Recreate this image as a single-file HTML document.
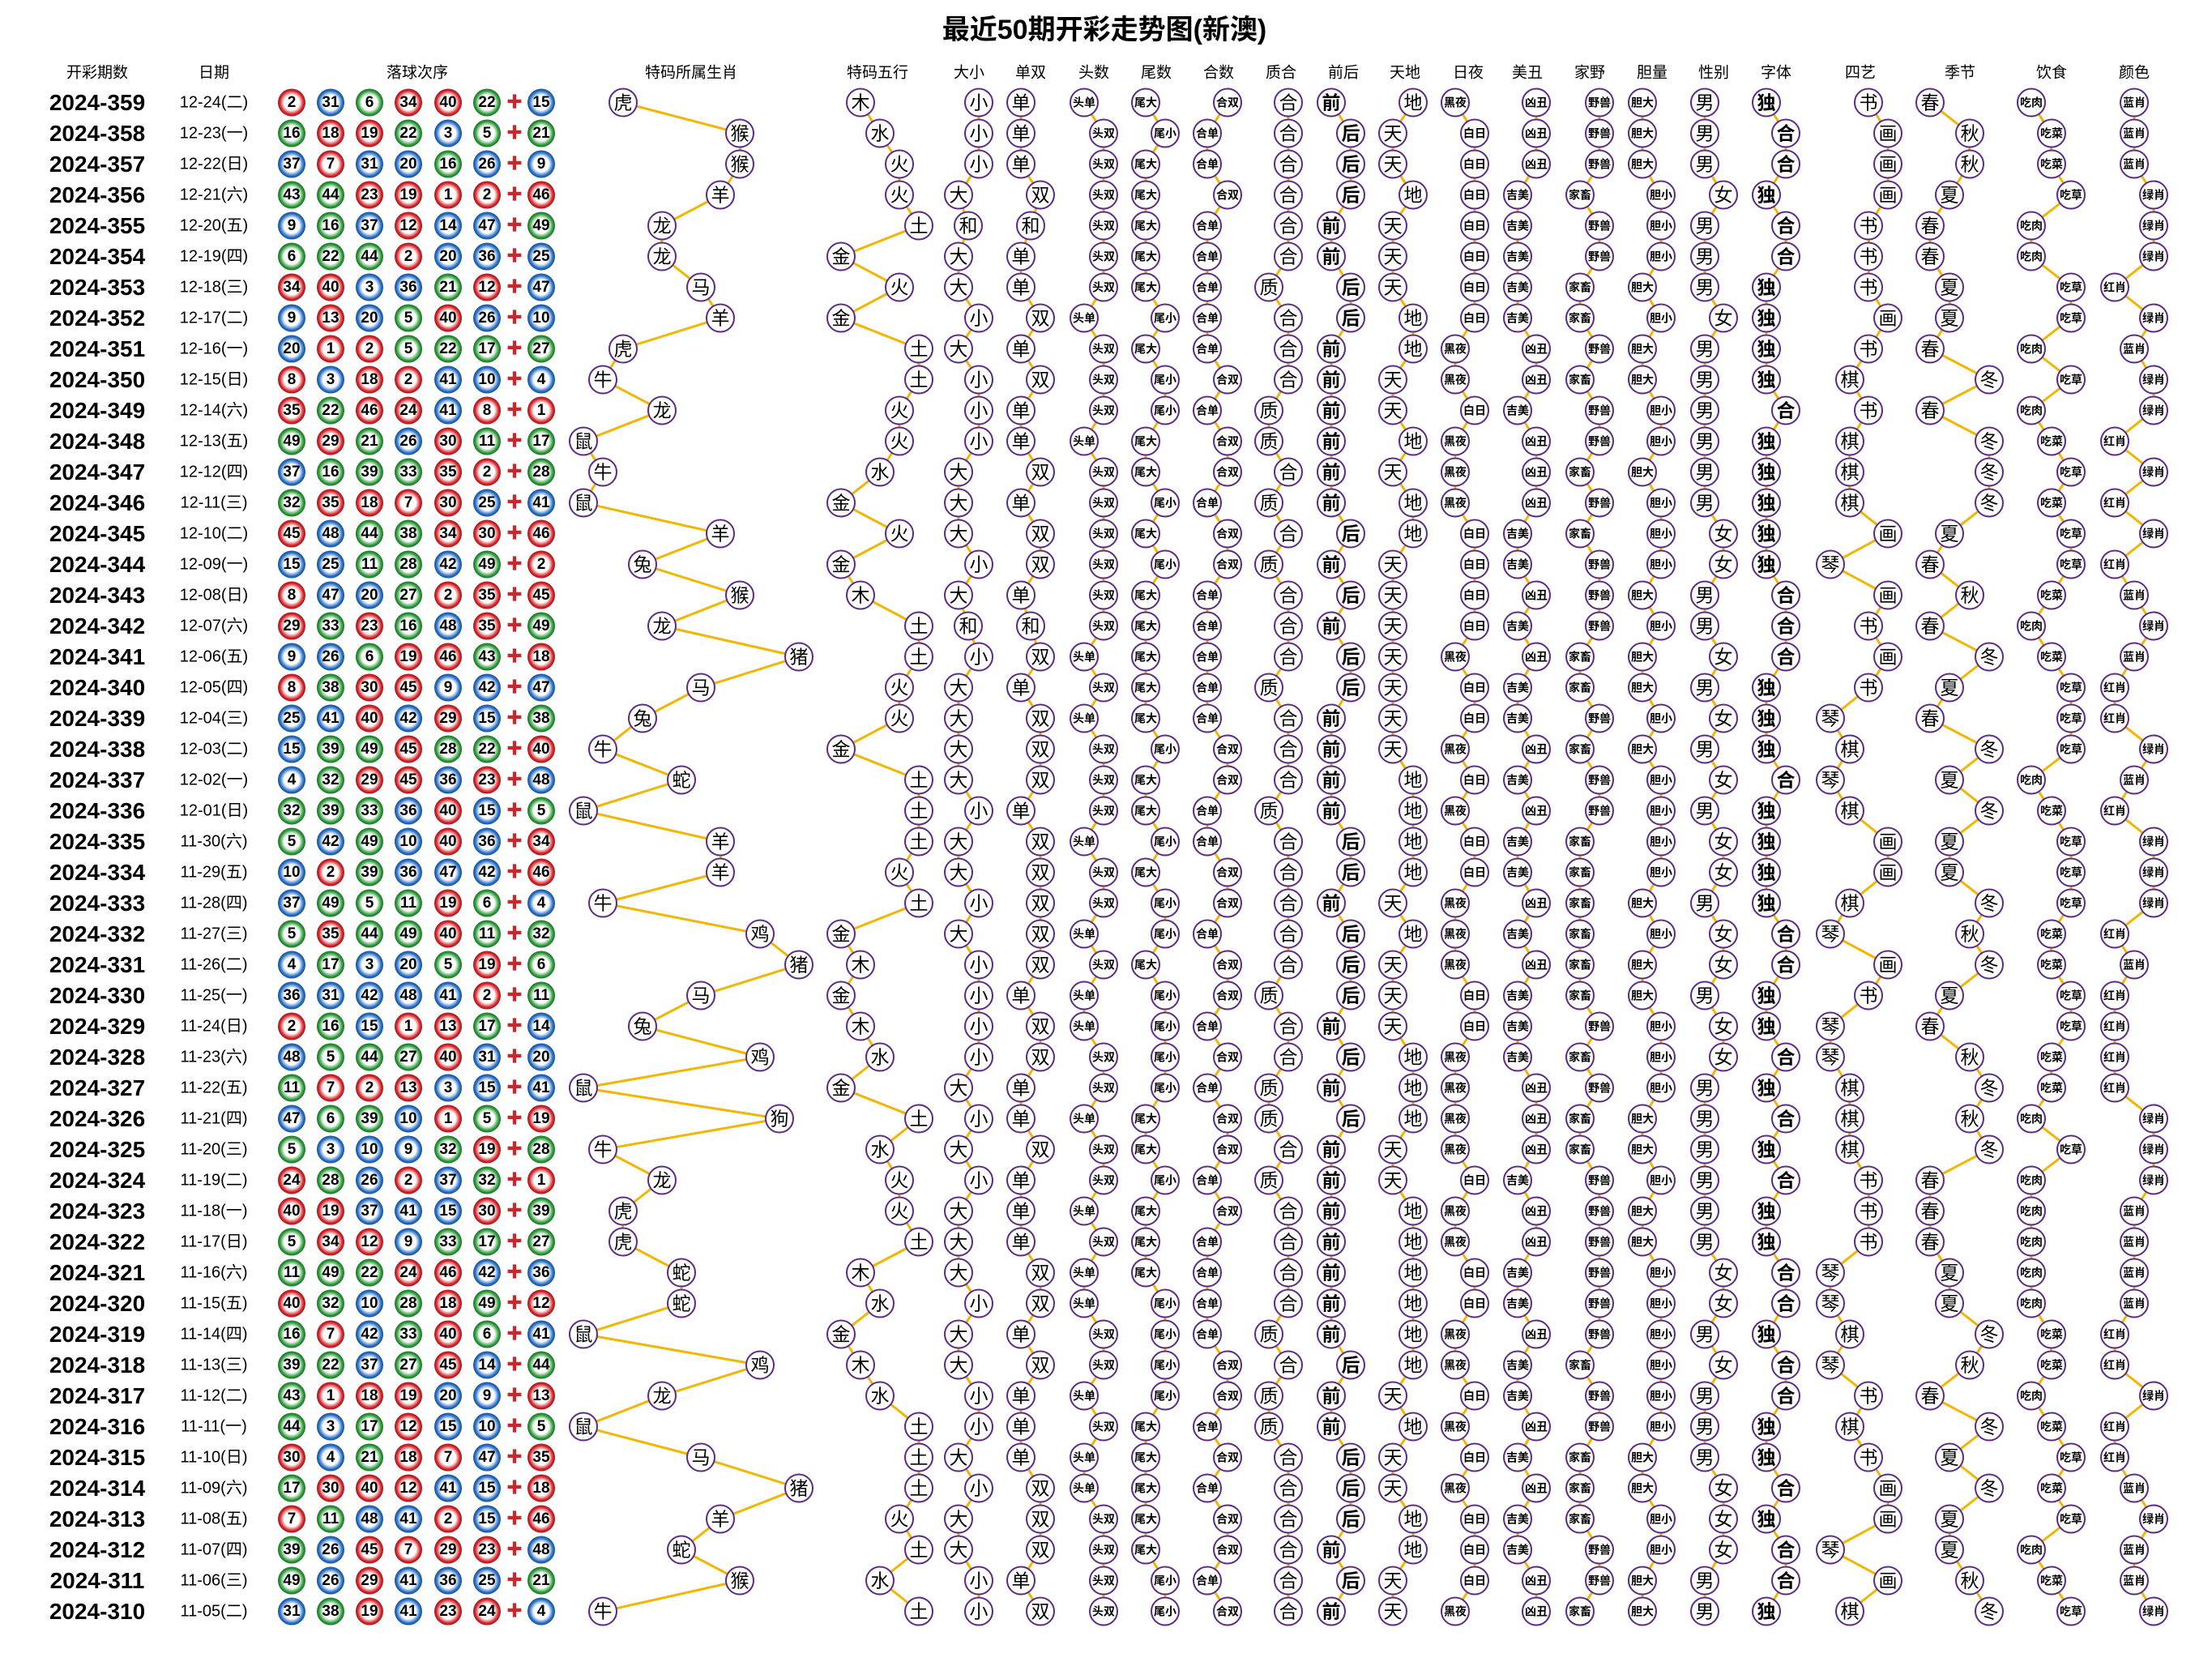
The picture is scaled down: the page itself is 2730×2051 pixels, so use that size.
<!DOCTYPE html>
<html><head><meta charset="utf-8"><style>
html,body{margin:0;padding:0;background:#fff}
svg{display:block}
text{font-family:"Liberation Sans","Noto Sans CJK SC",sans-serif;text-anchor:middle;dominant-baseline:central;font-size:23px;fill:#000}
circle{r:17px;fill:#fff;stroke:#5b2a86;stroke-width:2}
circle.R{fill:url(#gR);stroke:none}
circle.B{fill:url(#gB);stroke:none}
circle.G{fill:url(#gG);stroke:none}
.p{font-size:28px;font-weight:bold}
.d{font-size:20px}
.n{font-size:19px;font-weight:bold}
.s{font-size:14px;font-weight:bold}
.k{font-weight:bold}
.pl{fill:#c8282c;font-size:20px;font-weight:bold}
.h{font-size:19px}
.t{font-size:34px;font-weight:bold}
polyline{fill:none;stroke:#f2b600;stroke-width:3}
</style></head><body>
<svg width="2730" height="2051" viewBox="0 0 2730 2051" xmlns="http://www.w3.org/2000/svg">
<defs>
<radialGradient id="gR" cx="50%" cy="50%" r="50%"><stop offset="0" stop-color="#fff"/><stop offset="0.55" stop-color="#fff"/><stop offset="0.85" stop-color="#d8282c"/><stop offset="1" stop-color="#a3141a"/></radialGradient>
<radialGradient id="gB" cx="50%" cy="50%" r="50%"><stop offset="0" stop-color="#fff"/><stop offset="0.55" stop-color="#fff"/><stop offset="0.85" stop-color="#2a72c8"/><stop offset="1" stop-color="#164f96"/></radialGradient>
<radialGradient id="gG" cx="50%" cy="50%" r="50%"><stop offset="0" stop-color="#fff"/><stop offset="0.55" stop-color="#fff"/><stop offset="0.85" stop-color="#2f9e3c"/><stop offset="1" stop-color="#1a7026"/></radialGradient>
</defs>
<text class="t" x="1363" y="37">最近50期开彩走势图(新澳)</text>
<g transform="translate(0,90)">
<text class="h" x="120">开彩期数</text><text class="h" x="264">日期</text><text class="h" x="515">落球次序</text><text class="h" x="853">特码所属生肖</text><text class="h" x="1083">特码五行</text><text class="h" x="1196">大小</text><text class="h" x="1272">单双</text><text class="h" x="1350">头数</text><text class="h" x="1427">尾数</text><text class="h" x="1504">合数</text><text class="h" x="1581">质合</text><text class="h" x="1658">前后</text><text class="h" x="1734">天地</text><text class="h" x="1812">日夜</text><text class="h" x="1885">美丑</text><text class="h" x="1962">家野</text><text class="h" x="2039">胆量</text><text class="h" x="2115">性别</text><text class="h" x="2192">字体</text><text class="h" x="2296">四艺</text><text class="h" x="2419">季节</text><text class="h" x="2532">饮食</text><text class="h" x="2634">颜色</text>
</g>
<g>
<polyline vector-effect="non-scaling-stroke" transform="translate(720,126.5) scale(24.2,38)" points="2,0 8,1 8,2 7,3 4,4 4,5 6,6 7,7 2,8 1,9 4,10 0,11 1,12 0,13 7,14 3,15 8,16 4,17 11,18 6,19 3,20 1,21 5,22 0,23 7,24 7,25 1,26 9,27 11,28 6,29 3,30 9,31 0,32 10,33 1,34 4,35 2,36 2,37 5,38 5,39 0,40 9,41 4,42 0,43 6,44 11,45 7,46 5,47 8,48 1,49"/>
<polyline vector-effect="non-scaling-stroke" transform="translate(1038,126.5) scale(24,38)" points="1,0 2,1 3,2 3,3 4,4 0,5 3,6 0,7 4,8 4,9 3,10 3,11 2,12 0,13 3,14 0,15 1,16 4,17 4,18 3,19 3,20 0,21 4,22 4,23 4,24 3,25 4,26 0,27 1,28 0,29 1,30 2,31 0,32 4,33 2,34 3,35 3,36 4,37 1,38 2,39 0,40 1,41 2,42 4,43 4,44 4,45 3,46 4,47 2,48 4,49"/>
<polyline vector-effect="non-scaling-stroke" transform="translate(1183,126.5) scale(12.5,38)" points="2,0 2,1 2,2 0,3 1,4 0,5 0,6 2,7 0,8 2,9 2,10 2,11 0,12 0,13 0,14 2,15 0,16 1,17 2,18 0,19 0,20 0,21 0,22 2,23 0,24 0,25 2,26 0,27 2,28 2,29 2,30 2,31 0,32 2,33 0,34 2,35 0,36 0,37 0,38 2,39 0,40 0,41 2,42 2,43 0,44 2,45 0,46 0,47 2,48 2,49"/>
<polyline vector-effect="non-scaling-stroke" transform="translate(1260,126.5) scale(12,38)" points="0,0 0,1 0,2 2,3 1,4 0,5 0,6 2,7 0,8 2,9 0,10 0,11 2,12 0,13 2,14 2,15 0,16 1,17 2,18 0,19 2,20 2,21 2,22 0,23 2,24 2,25 2,26 2,27 2,28 0,29 2,30 2,31 0,32 0,33 2,34 0,35 0,36 0,37 2,38 2,39 0,40 2,41 0,42 0,43 0,44 2,45 2,46 2,47 0,48 2,49"/>
<polyline vector-effect="non-scaling-stroke" transform="translate(1338,126.5) scale(24,38)" points="0,0 1,1 1,2 1,3 1,4 1,5 1,6 0,7 1,8 1,9 1,10 0,11 1,12 1,13 1,14 1,15 1,16 1,17 0,18 1,19 0,20 1,21 1,22 1,23 0,24 1,25 1,26 0,27 1,28 0,29 0,30 1,31 1,32 0,33 1,34 1,35 0,36 1,37 0,38 0,39 1,40 1,41 0,42 1,43 0,44 0,45 1,46 1,47 1,48 1,49"/>
<polyline vector-effect="non-scaling-stroke" transform="translate(1414,126.5) scale(24,38)" points="0,0 1,1 0,2 0,3 0,4 0,5 0,6 1,7 0,8 1,9 1,10 0,11 0,12 1,13 0,14 1,15 0,16 0,17 0,18 0,19 0,20 1,21 0,22 0,23 1,24 0,25 1,26 1,27 0,28 1,29 1,30 1,31 1,32 0,33 0,34 1,35 0,36 0,37 0,38 1,39 1,40 1,41 1,42 0,43 0,44 0,45 0,46 0,47 1,48 1,49"/>
<polyline vector-effect="non-scaling-stroke" transform="translate(1490,126.5) scale(25,38)" points="1,0 0,1 0,2 1,3 0,4 0,5 0,6 0,7 0,8 1,9 0,10 1,11 1,12 0,13 1,14 1,15 0,16 0,17 0,18 0,19 0,20 1,21 1,22 0,23 0,24 1,25 1,26 0,27 1,28 1,29 0,30 1,31 0,32 1,33 1,34 0,35 1,36 0,37 0,38 0,39 0,40 1,41 1,42 0,43 1,44 0,45 1,46 1,47 0,48 1,49"/>
<polyline vector-effect="non-scaling-stroke" transform="translate(1566,126.5) scale(24,38)" points="1,0 1,1 1,2 1,3 1,4 1,5 0,6 1,7 1,8 1,9 0,10 0,11 1,12 0,13 1,14 0,15 1,16 1,17 1,18 0,19 1,20 1,21 1,22 0,23 1,24 1,25 1,26 1,27 1,28 0,29 1,30 1,31 0,32 0,33 1,34 0,35 1,36 1,37 1,38 1,39 0,40 1,41 0,42 0,43 1,44 1,45 1,46 1,47 1,48 1,49"/>
<polyline vector-effect="non-scaling-stroke" transform="translate(1643,126.5) scale(24,38)" points="0,0 1,1 1,2 1,3 0,4 0,5 1,6 1,7 0,8 0,9 0,10 0,11 0,12 0,13 1,14 0,15 1,16 0,17 1,18 1,19 0,20 0,21 0,22 0,23 1,24 1,25 0,26 1,27 1,28 1,29 0,30 1,31 0,32 1,33 0,34 0,35 0,36 0,37 0,38 0,39 0,40 1,41 0,42 0,43 1,44 1,45 1,46 0,47 1,48 0,49"/>
<polyline vector-effect="non-scaling-stroke" transform="translate(1719,126.5) scale(25,38)" points="1,0 0,1 0,2 1,3 0,4 0,5 0,6 1,7 1,8 0,9 0,10 1,11 0,12 1,13 1,14 0,15 0,16 0,17 0,18 0,19 0,20 0,21 1,22 1,23 1,24 1,25 0,26 1,27 0,28 0,29 0,30 1,31 1,32 1,33 0,34 0,35 1,36 1,37 1,38 1,39 1,40 1,41 0,42 1,43 0,44 0,45 1,46 1,47 0,48 0,49"/>
<polyline vector-effect="non-scaling-stroke" transform="translate(1796,126.5) scale(24,38)" points="0,0 1,1 1,2 1,3 1,4 1,5 1,6 1,7 0,8 0,9 1,10 0,11 0,12 0,13 1,14 1,15 1,16 1,17 0,18 1,19 1,20 0,21 1,22 0,23 1,24 1,25 0,26 0,27 0,28 1,29 1,30 0,31 0,32 0,33 0,34 1,35 0,36 0,37 1,38 1,39 0,40 0,41 1,42 0,43 1,44 0,45 1,46 1,47 1,48 0,49"/>
<polyline vector-effect="non-scaling-stroke" transform="translate(1873,126.5) scale(23,38)" points="1,0 1,1 1,2 0,3 0,4 0,5 0,6 0,7 1,8 1,9 0,10 1,11 1,12 1,13 0,14 0,15 1,16 0,17 1,18 0,19 0,20 1,21 0,22 1,23 0,24 0,25 1,26 0,27 1,28 0,29 0,30 0,31 1,32 1,33 1,34 0,35 1,36 1,37 0,38 0,39 1,40 0,41 0,42 1,43 0,44 1,45 0,46 0,47 1,48 1,49"/>
<polyline vector-effect="non-scaling-stroke" transform="translate(1950,126.5) scale(24,38)" points="1,0 1,1 1,2 0,3 1,4 1,5 0,6 0,7 1,8 0,9 1,10 1,11 0,12 1,13 0,14 1,15 1,16 1,17 0,18 0,19 1,20 0,21 1,22 1,23 0,24 0,25 0,26 0,27 0,28 0,29 1,30 0,31 1,32 0,33 0,34 1,35 1,36 1,37 1,38 1,39 1,40 0,41 1,42 1,43 0,44 0,45 0,46 1,47 1,48 0,49"/>
<polyline vector-effect="non-scaling-stroke" transform="translate(2027,126.5) scale(23,38)" points="0,0 0,1 0,2 1,3 1,4 1,5 0,6 1,7 0,8 0,9 1,10 1,11 0,12 1,13 1,14 1,15 0,16 1,17 0,18 0,19 1,20 0,21 1,22 1,23 1,24 1,25 0,26 1,27 0,28 0,29 1,30 1,31 1,32 0,33 0,34 1,35 0,36 0,37 1,38 1,39 1,40 1,41 1,42 1,43 0,44 0,45 1,46 1,47 0,48 0,49"/>
<polyline vector-effect="non-scaling-stroke" transform="translate(2104,126.5) scale(23,38)" points="0,0 0,1 0,2 1,3 0,4 0,5 0,6 1,7 0,8 0,9 0,10 0,11 0,12 0,13 1,14 1,15 0,16 0,17 1,18 0,19 1,20 0,21 1,22 0,23 1,24 1,25 0,26 1,27 1,28 0,29 1,30 1,31 0,32 0,33 0,34 0,35 0,36 0,37 1,38 1,39 0,40 1,41 0,42 0,43 0,44 1,45 1,46 1,47 0,48 0,49"/>
<polyline vector-effect="non-scaling-stroke" transform="translate(2180,126.5) scale(24,38)" points="0,0 1,1 1,2 0,3 1,4 1,5 0,6 0,7 0,8 0,9 1,10 0,11 0,12 0,13 0,14 0,15 1,16 1,17 1,18 0,19 0,20 0,21 1,22 0,23 0,24 0,25 0,26 1,27 1,28 0,29 0,30 1,31 0,32 1,33 0,34 1,35 0,36 0,37 1,38 1,39 0,40 1,41 1,42 0,43 0,44 1,45 0,46 1,47 1,48 0,49"/>
<polyline vector-effect="non-scaling-stroke" transform="translate(2259,126.5) scale(23.7,38)" points="2,0 3,1 3,2 3,3 2,4 2,5 2,6 3,7 2,8 1,9 2,10 1,11 1,12 1,13 3,14 0,15 3,16 2,17 3,18 2,19 0,20 1,21 0,22 1,23 3,24 3,25 1,26 0,27 3,28 2,29 0,30 0,31 1,32 1,33 1,34 2,35 2,36 2,37 0,38 0,39 1,40 0,41 2,42 1,43 2,44 3,45 3,46 0,47 3,48 1,49"/>
<polyline vector-effect="non-scaling-stroke" transform="translate(2382,126.5) scale(24.3,38)" points="0,0 2,1 2,2 1,3 0,4 0,5 1,6 1,7 0,8 3,9 0,10 3,11 3,12 3,13 1,14 0,15 2,16 0,17 3,18 1,19 0,20 3,21 1,22 3,23 1,24 1,25 3,26 2,27 3,28 1,29 0,30 2,31 3,32 2,33 3,34 0,35 0,36 0,37 1,38 1,39 3,40 2,41 0,42 3,43 1,44 3,45 1,46 1,47 2,48 3,49"/>
<polyline vector-effect="non-scaling-stroke" transform="translate(2507,126.5) scale(24.5,38)" points="0,0 1,1 1,2 2,3 0,4 0,5 2,6 2,7 0,8 2,9 0,10 1,11 2,12 1,13 2,14 2,15 1,16 0,17 1,18 2,19 2,20 2,21 0,22 1,23 2,24 2,25 2,26 1,27 1,28 2,29 2,30 1,31 1,32 0,33 2,34 0,35 0,36 0,37 0,38 0,39 1,40 1,41 0,42 1,43 2,44 1,45 2,46 0,47 1,48 2,49"/>
<polyline vector-effect="non-scaling-stroke" transform="translate(2610,126.5) scale(24,38)" points="1,0 1,1 1,2 2,3 2,4 2,5 0,6 2,7 1,8 2,9 2,10 0,11 2,12 0,13 2,14 0,15 1,16 2,17 1,18 0,19 0,20 2,21 1,22 0,23 2,24 2,25 2,26 0,27 1,28 0,29 0,30 0,31 0,32 2,33 2,34 2,35 1,36 1,37 1,38 1,39 0,40 0,41 2,42 0,43 0,44 1,45 2,46 1,47 1,48 2,49"/>
</g>

<g transform="translate(0,126.5)"><text class="p" x="120">2024-359</text><text class="d" x="264">12-24(二)</text><circle class="R" cx="360"/><text class="n" x="360">2</text><circle class="B" cx="408"/><text class="n" x="408">31</text><circle class="G" cx="456"/><text class="n" x="456">6</text><circle class="R" cx="504"/><text class="n" x="504">34</text><circle class="R" cx="553"/><text class="n" x="553">40</text><circle class="G" cx="601"/><text class="n" x="601">22</text><text class="pl" x="635">✚</text><circle class="B" cx="668"/><text class="n" x="668">15</text>
<circle cx="769"/><text x="769">虎</text><circle cx="1062"/><text x="1062">木</text><circle cx="1208"/><text x="1208">小</text><circle cx="1260"/><text x="1260">单</text><circle cx="1338"/><text class="s" x="1338">头单</text><circle cx="1414"/><text class="s" x="1414">尾大</text><circle cx="1515"/><text class="s" x="1515">合双</text><circle cx="1590"/><text x="1590">合</text>
<circle cx="1643"/><text class="k" x="1643">前</text><circle cx="1744"/><text x="1744">地</text><circle cx="1796"/><text class="s" x="1796">黑夜</text><circle cx="1896"/><text class="s" x="1896">凶丑</text><circle cx="1974"/><text class="s" x="1974">野兽</text><circle cx="2027"/><text class="s" x="2027">胆大</text><circle cx="2104"/><text x="2104">男</text><circle cx="2180"/><text class="k" x="2180">独</text><circle cx="2306"/><text x="2306">书</text><circle cx="2382"/><text x="2382">春</text><circle cx="2507"/><text class="s" x="2507">吃肉</text><circle cx="2634"/><text class="s" x="2634">蓝肖</text></g>

<g transform="translate(0,164.5)"><text class="p" x="120">2024-358</text><text class="d" x="264">12-23(一)</text><circle class="G" cx="360"/><text class="n" x="360">16</text><circle class="R" cx="408"/><text class="n" x="408">18</text><circle class="R" cx="456"/><text class="n" x="456">19</text><circle class="G" cx="504"/><text class="n" x="504">22</text><circle class="B" cx="553"/><text class="n" x="553">3</text><circle class="G" cx="601"/><text class="n" x="601">5</text><text class="pl" x="635">✚</text><circle class="G" cx="668"/><text class="n" x="668">21</text>
<circle cx="913"/><text x="913">猴</text><circle cx="1086"/><text x="1086">水</text><circle cx="1208"/><text x="1208">小</text><circle cx="1260"/><text x="1260">单</text><circle cx="1362"/><text class="s" x="1362">头双</text><circle cx="1438"/><text class="s" x="1438">尾小</text><circle cx="1490"/><text class="s" x="1490">合单</text><circle cx="1590"/><text x="1590">合</text>
<circle cx="1667"/><text class="k" x="1667">后</text><circle cx="1719"/><text x="1719">天</text><circle cx="1820"/><text class="s" x="1820">白日</text><circle cx="1896"/><text class="s" x="1896">凶丑</text><circle cx="1974"/><text class="s" x="1974">野兽</text><circle cx="2027"/><text class="s" x="2027">胆大</text><circle cx="2104"/><text x="2104">男</text><circle cx="2204"/><text class="k" x="2204">合</text><circle cx="2330"/><text x="2330">画</text><circle cx="2431"/><text x="2431">秋</text><circle cx="2532"/><text class="s" x="2532">吃菜</text><circle cx="2634"/><text class="s" x="2634">蓝肖</text></g>

<g transform="translate(0,202.5)"><text class="p" x="120">2024-357</text><text class="d" x="264">12-22(日)</text><circle class="B" cx="360"/><text class="n" x="360">37</text><circle class="R" cx="408"/><text class="n" x="408">7</text><circle class="B" cx="456"/><text class="n" x="456">31</text><circle class="B" cx="504"/><text class="n" x="504">20</text><circle class="G" cx="553"/><text class="n" x="553">16</text><circle class="B" cx="601"/><text class="n" x="601">26</text><text class="pl" x="635">✚</text><circle class="B" cx="668"/><text class="n" x="668">9</text>
<circle cx="913"/><text x="913">猴</text><circle cx="1110"/><text x="1110">火</text><circle cx="1208"/><text x="1208">小</text><circle cx="1260"/><text x="1260">单</text><circle cx="1362"/><text class="s" x="1362">头双</text><circle cx="1414"/><text class="s" x="1414">尾大</text><circle cx="1490"/><text class="s" x="1490">合单</text><circle cx="1590"/><text x="1590">合</text>
<circle cx="1667"/><text class="k" x="1667">后</text><circle cx="1719"/><text x="1719">天</text><circle cx="1820"/><text class="s" x="1820">白日</text><circle cx="1896"/><text class="s" x="1896">凶丑</text><circle cx="1974"/><text class="s" x="1974">野兽</text><circle cx="2027"/><text class="s" x="2027">胆大</text><circle cx="2104"/><text x="2104">男</text><circle cx="2204"/><text class="k" x="2204">合</text><circle cx="2330"/><text x="2330">画</text><circle cx="2431"/><text x="2431">秋</text><circle cx="2532"/><text class="s" x="2532">吃菜</text><circle cx="2634"/><text class="s" x="2634">蓝肖</text></g>

<g transform="translate(0,240.5)"><text class="p" x="120">2024-356</text><text class="d" x="264">12-21(六)</text><circle class="G" cx="360"/><text class="n" x="360">43</text><circle class="G" cx="408"/><text class="n" x="408">44</text><circle class="R" cx="456"/><text class="n" x="456">23</text><circle class="R" cx="504"/><text class="n" x="504">19</text><circle class="R" cx="553"/><text class="n" x="553">1</text><circle class="R" cx="601"/><text class="n" x="601">2</text><text class="pl" x="635">✚</text><circle class="R" cx="668"/><text class="n" x="668">46</text>
<circle cx="889"/><text x="889">羊</text><circle cx="1110"/><text x="1110">火</text><circle cx="1183"/><text x="1183">大</text><circle cx="1284"/><text x="1284">双</text><circle cx="1362"/><text class="s" x="1362">头双</text><circle cx="1414"/><text class="s" x="1414">尾大</text><circle cx="1515"/><text class="s" x="1515">合双</text><circle cx="1590"/><text x="1590">合</text>
<circle cx="1667"/><text class="k" x="1667">后</text><circle cx="1744"/><text x="1744">地</text><circle cx="1820"/><text class="s" x="1820">白日</text><circle cx="1873"/><text class="s" x="1873">吉美</text><circle cx="1950"/><text class="s" x="1950">家畜</text><circle cx="2050"/><text class="s" x="2050">胆小</text><circle cx="2127"/><text x="2127">女</text><circle cx="2180"/><text class="k" x="2180">独</text><circle cx="2330"/><text x="2330">画</text><circle cx="2406"/><text x="2406">夏</text><circle cx="2556"/><text class="s" x="2556">吃草</text><circle cx="2658"/><text class="s" x="2658">绿肖</text></g>

<g transform="translate(0,278.5)"><text class="p" x="120">2024-355</text><text class="d" x="264">12-20(五)</text><circle class="B" cx="360"/><text class="n" x="360">9</text><circle class="G" cx="408"/><text class="n" x="408">16</text><circle class="B" cx="456"/><text class="n" x="456">37</text><circle class="R" cx="504"/><text class="n" x="504">12</text><circle class="B" cx="553"/><text class="n" x="553">14</text><circle class="B" cx="601"/><text class="n" x="601">47</text><text class="pl" x="635">✚</text><circle class="G" cx="668"/><text class="n" x="668">49</text>
<circle cx="817"/><text x="817">龙</text><circle cx="1134"/><text x="1134">土</text><circle cx="1195"/><text x="1195">和</text><circle cx="1272"/><text x="1272">和</text><circle cx="1362"/><text class="s" x="1362">头双</text><circle cx="1414"/><text class="s" x="1414">尾大</text><circle cx="1490"/><text class="s" x="1490">合单</text><circle cx="1590"/><text x="1590">合</text>
<circle cx="1643"/><text class="k" x="1643">前</text><circle cx="1719"/><text x="1719">天</text><circle cx="1820"/><text class="s" x="1820">白日</text><circle cx="1873"/><text class="s" x="1873">吉美</text><circle cx="1974"/><text class="s" x="1974">野兽</text><circle cx="2050"/><text class="s" x="2050">胆小</text><circle cx="2104"/><text x="2104">男</text><circle cx="2204"/><text class="k" x="2204">合</text><circle cx="2306"/><text x="2306">书</text><circle cx="2382"/><text x="2382">春</text><circle cx="2507"/><text class="s" x="2507">吃肉</text><circle cx="2658"/><text class="s" x="2658">绿肖</text></g>

<g transform="translate(0,316.5)"><text class="p" x="120">2024-354</text><text class="d" x="264">12-19(四)</text><circle class="G" cx="360"/><text class="n" x="360">6</text><circle class="G" cx="408"/><text class="n" x="408">22</text><circle class="G" cx="456"/><text class="n" x="456">44</text><circle class="R" cx="504"/><text class="n" x="504">2</text><circle class="B" cx="553"/><text class="n" x="553">20</text><circle class="B" cx="601"/><text class="n" x="601">36</text><text class="pl" x="635">✚</text><circle class="B" cx="668"/><text class="n" x="668">25</text>
<circle cx="817"/><text x="817">龙</text><circle cx="1038"/><text x="1038">金</text><circle cx="1183"/><text x="1183">大</text><circle cx="1260"/><text x="1260">单</text><circle cx="1362"/><text class="s" x="1362">头双</text><circle cx="1414"/><text class="s" x="1414">尾大</text><circle cx="1490"/><text class="s" x="1490">合单</text><circle cx="1590"/><text x="1590">合</text>
<circle cx="1643"/><text class="k" x="1643">前</text><circle cx="1719"/><text x="1719">天</text><circle cx="1820"/><text class="s" x="1820">白日</text><circle cx="1873"/><text class="s" x="1873">吉美</text><circle cx="1974"/><text class="s" x="1974">野兽</text><circle cx="2050"/><text class="s" x="2050">胆小</text><circle cx="2104"/><text x="2104">男</text><circle cx="2204"/><text class="k" x="2204">合</text><circle cx="2306"/><text x="2306">书</text><circle cx="2382"/><text x="2382">春</text><circle cx="2507"/><text class="s" x="2507">吃肉</text><circle cx="2658"/><text class="s" x="2658">绿肖</text></g>

<g transform="translate(0,354.5)"><text class="p" x="120">2024-353</text><text class="d" x="264">12-18(三)</text><circle class="R" cx="360"/><text class="n" x="360">34</text><circle class="R" cx="408"/><text class="n" x="408">40</text><circle class="B" cx="456"/><text class="n" x="456">3</text><circle class="B" cx="504"/><text class="n" x="504">36</text><circle class="G" cx="553"/><text class="n" x="553">21</text><circle class="R" cx="601"/><text class="n" x="601">12</text><text class="pl" x="635">✚</text><circle class="B" cx="668"/><text class="n" x="668">47</text>
<circle cx="865"/><text x="865">马</text><circle cx="1110"/><text x="1110">火</text><circle cx="1183"/><text x="1183">大</text><circle cx="1260"/><text x="1260">单</text><circle cx="1362"/><text class="s" x="1362">头双</text><circle cx="1414"/><text class="s" x="1414">尾大</text><circle cx="1490"/><text class="s" x="1490">合单</text><circle cx="1566"/><text x="1566">质</text>
<circle cx="1667"/><text class="k" x="1667">后</text><circle cx="1719"/><text x="1719">天</text><circle cx="1820"/><text class="s" x="1820">白日</text><circle cx="1873"/><text class="s" x="1873">吉美</text><circle cx="1950"/><text class="s" x="1950">家畜</text><circle cx="2027"/><text class="s" x="2027">胆大</text><circle cx="2104"/><text x="2104">男</text><circle cx="2180"/><text class="k" x="2180">独</text><circle cx="2306"/><text x="2306">书</text><circle cx="2406"/><text x="2406">夏</text><circle cx="2556"/><text class="s" x="2556">吃草</text><circle cx="2610"/><text class="s" x="2610">红肖</text></g>

<g transform="translate(0,392.5)"><text class="p" x="120">2024-352</text><text class="d" x="264">12-17(二)</text><circle class="B" cx="360"/><text class="n" x="360">9</text><circle class="R" cx="408"/><text class="n" x="408">13</text><circle class="B" cx="456"/><text class="n" x="456">20</text><circle class="G" cx="504"/><text class="n" x="504">5</text><circle class="R" cx="553"/><text class="n" x="553">40</text><circle class="B" cx="601"/><text class="n" x="601">26</text><text class="pl" x="635">✚</text><circle class="B" cx="668"/><text class="n" x="668">10</text>
<circle cx="889"/><text x="889">羊</text><circle cx="1038"/><text x="1038">金</text><circle cx="1208"/><text x="1208">小</text><circle cx="1284"/><text x="1284">双</text><circle cx="1338"/><text class="s" x="1338">头单</text><circle cx="1438"/><text class="s" x="1438">尾小</text><circle cx="1490"/><text class="s" x="1490">合单</text><circle cx="1590"/><text x="1590">合</text>
<circle cx="1667"/><text class="k" x="1667">后</text><circle cx="1744"/><text x="1744">地</text><circle cx="1820"/><text class="s" x="1820">白日</text><circle cx="1873"/><text class="s" x="1873">吉美</text><circle cx="1950"/><text class="s" x="1950">家畜</text><circle cx="2050"/><text class="s" x="2050">胆小</text><circle cx="2127"/><text x="2127">女</text><circle cx="2180"/><text class="k" x="2180">独</text><circle cx="2330"/><text x="2330">画</text><circle cx="2406"/><text x="2406">夏</text><circle cx="2556"/><text class="s" x="2556">吃草</text><circle cx="2658"/><text class="s" x="2658">绿肖</text></g>

<g transform="translate(0,430.5)"><text class="p" x="120">2024-351</text><text class="d" x="264">12-16(一)</text><circle class="B" cx="360"/><text class="n" x="360">20</text><circle class="R" cx="408"/><text class="n" x="408">1</text><circle class="R" cx="456"/><text class="n" x="456">2</text><circle class="G" cx="504"/><text class="n" x="504">5</text><circle class="G" cx="553"/><text class="n" x="553">22</text><circle class="G" cx="601"/><text class="n" x="601">17</text><text class="pl" x="635">✚</text><circle class="G" cx="668"/><text class="n" x="668">27</text>
<circle cx="769"/><text x="769">虎</text><circle cx="1134"/><text x="1134">土</text><circle cx="1183"/><text x="1183">大</text><circle cx="1260"/><text x="1260">单</text><circle cx="1362"/><text class="s" x="1362">头双</text><circle cx="1414"/><text class="s" x="1414">尾大</text><circle cx="1490"/><text class="s" x="1490">合单</text><circle cx="1590"/><text x="1590">合</text>
<circle cx="1643"/><text class="k" x="1643">前</text><circle cx="1744"/><text x="1744">地</text><circle cx="1796"/><text class="s" x="1796">黑夜</text><circle cx="1896"/><text class="s" x="1896">凶丑</text><circle cx="1974"/><text class="s" x="1974">野兽</text><circle cx="2027"/><text class="s" x="2027">胆大</text><circle cx="2104"/><text x="2104">男</text><circle cx="2180"/><text class="k" x="2180">独</text><circle cx="2306"/><text x="2306">书</text><circle cx="2382"/><text x="2382">春</text><circle cx="2507"/><text class="s" x="2507">吃肉</text><circle cx="2634"/><text class="s" x="2634">蓝肖</text></g>

<g transform="translate(0,468.5)"><text class="p" x="120">2024-350</text><text class="d" x="264">12-15(日)</text><circle class="R" cx="360"/><text class="n" x="360">8</text><circle class="B" cx="408"/><text class="n" x="408">3</text><circle class="R" cx="456"/><text class="n" x="456">18</text><circle class="R" cx="504"/><text class="n" x="504">2</text><circle class="B" cx="553"/><text class="n" x="553">41</text><circle class="B" cx="601"/><text class="n" x="601">10</text><text class="pl" x="635">✚</text><circle class="B" cx="668"/><text class="n" x="668">4</text>
<circle cx="744"/><text x="744">牛</text><circle cx="1134"/><text x="1134">土</text><circle cx="1208"/><text x="1208">小</text><circle cx="1284"/><text x="1284">双</text><circle cx="1362"/><text class="s" x="1362">头双</text><circle cx="1438"/><text class="s" x="1438">尾小</text><circle cx="1515"/><text class="s" x="1515">合双</text><circle cx="1590"/><text x="1590">合</text>
<circle cx="1643"/><text class="k" x="1643">前</text><circle cx="1719"/><text x="1719">天</text><circle cx="1796"/><text class="s" x="1796">黑夜</text><circle cx="1896"/><text class="s" x="1896">凶丑</text><circle cx="1950"/><text class="s" x="1950">家畜</text><circle cx="2027"/><text class="s" x="2027">胆大</text><circle cx="2104"/><text x="2104">男</text><circle cx="2180"/><text class="k" x="2180">独</text><circle cx="2283"/><text x="2283">棋</text><circle cx="2455"/><text x="2455">冬</text><circle cx="2556"/><text class="s" x="2556">吃草</text><circle cx="2658"/><text class="s" x="2658">绿肖</text></g>

<g transform="translate(0,506.5)"><text class="p" x="120">2024-349</text><text class="d" x="264">12-14(六)</text><circle class="R" cx="360"/><text class="n" x="360">35</text><circle class="G" cx="408"/><text class="n" x="408">22</text><circle class="R" cx="456"/><text class="n" x="456">46</text><circle class="R" cx="504"/><text class="n" x="504">24</text><circle class="B" cx="553"/><text class="n" x="553">41</text><circle class="R" cx="601"/><text class="n" x="601">8</text><text class="pl" x="635">✚</text><circle class="R" cx="668"/><text class="n" x="668">1</text>
<circle cx="817"/><text x="817">龙</text><circle cx="1110"/><text x="1110">火</text><circle cx="1208"/><text x="1208">小</text><circle cx="1260"/><text x="1260">单</text><circle cx="1362"/><text class="s" x="1362">头双</text><circle cx="1438"/><text class="s" x="1438">尾小</text><circle cx="1490"/><text class="s" x="1490">合单</text><circle cx="1566"/><text x="1566">质</text>
<circle cx="1643"/><text class="k" x="1643">前</text><circle cx="1719"/><text x="1719">天</text><circle cx="1820"/><text class="s" x="1820">白日</text><circle cx="1873"/><text class="s" x="1873">吉美</text><circle cx="1974"/><text class="s" x="1974">野兽</text><circle cx="2050"/><text class="s" x="2050">胆小</text><circle cx="2104"/><text x="2104">男</text><circle cx="2204"/><text class="k" x="2204">合</text><circle cx="2306"/><text x="2306">书</text><circle cx="2382"/><text x="2382">春</text><circle cx="2507"/><text class="s" x="2507">吃肉</text><circle cx="2658"/><text class="s" x="2658">绿肖</text></g>

<g transform="translate(0,544.5)"><text class="p" x="120">2024-348</text><text class="d" x="264">12-13(五)</text><circle class="G" cx="360"/><text class="n" x="360">49</text><circle class="R" cx="408"/><text class="n" x="408">29</text><circle class="G" cx="456"/><text class="n" x="456">21</text><circle class="B" cx="504"/><text class="n" x="504">26</text><circle class="R" cx="553"/><text class="n" x="553">30</text><circle class="G" cx="601"/><text class="n" x="601">11</text><text class="pl" x="635">✚</text><circle class="G" cx="668"/><text class="n" x="668">17</text>
<circle cx="720"/><text x="720">鼠</text><circle cx="1110"/><text x="1110">火</text><circle cx="1208"/><text x="1208">小</text><circle cx="1260"/><text x="1260">单</text><circle cx="1338"/><text class="s" x="1338">头单</text><circle cx="1414"/><text class="s" x="1414">尾大</text><circle cx="1515"/><text class="s" x="1515">合双</text><circle cx="1566"/><text x="1566">质</text>
<circle cx="1643"/><text class="k" x="1643">前</text><circle cx="1744"/><text x="1744">地</text><circle cx="1796"/><text class="s" x="1796">黑夜</text><circle cx="1896"/><text class="s" x="1896">凶丑</text><circle cx="1974"/><text class="s" x="1974">野兽</text><circle cx="2050"/><text class="s" x="2050">胆小</text><circle cx="2104"/><text x="2104">男</text><circle cx="2180"/><text class="k" x="2180">独</text><circle cx="2283"/><text x="2283">棋</text><circle cx="2455"/><text x="2455">冬</text><circle cx="2532"/><text class="s" x="2532">吃菜</text><circle cx="2610"/><text class="s" x="2610">红肖</text></g>

<g transform="translate(0,582.5)"><text class="p" x="120">2024-347</text><text class="d" x="264">12-12(四)</text><circle class="B" cx="360"/><text class="n" x="360">37</text><circle class="G" cx="408"/><text class="n" x="408">16</text><circle class="G" cx="456"/><text class="n" x="456">39</text><circle class="G" cx="504"/><text class="n" x="504">33</text><circle class="R" cx="553"/><text class="n" x="553">35</text><circle class="R" cx="601"/><text class="n" x="601">2</text><text class="pl" x="635">✚</text><circle class="G" cx="668"/><text class="n" x="668">28</text>
<circle cx="744"/><text x="744">牛</text><circle cx="1086"/><text x="1086">水</text><circle cx="1183"/><text x="1183">大</text><circle cx="1284"/><text x="1284">双</text><circle cx="1362"/><text class="s" x="1362">头双</text><circle cx="1414"/><text class="s" x="1414">尾大</text><circle cx="1515"/><text class="s" x="1515">合双</text><circle cx="1590"/><text x="1590">合</text>
<circle cx="1643"/><text class="k" x="1643">前</text><circle cx="1719"/><text x="1719">天</text><circle cx="1796"/><text class="s" x="1796">黑夜</text><circle cx="1896"/><text class="s" x="1896">凶丑</text><circle cx="1950"/><text class="s" x="1950">家畜</text><circle cx="2027"/><text class="s" x="2027">胆大</text><circle cx="2104"/><text x="2104">男</text><circle cx="2180"/><text class="k" x="2180">独</text><circle cx="2283"/><text x="2283">棋</text><circle cx="2455"/><text x="2455">冬</text><circle cx="2556"/><text class="s" x="2556">吃草</text><circle cx="2658"/><text class="s" x="2658">绿肖</text></g>

<g transform="translate(0,620.5)"><text class="p" x="120">2024-346</text><text class="d" x="264">12-11(三)</text><circle class="G" cx="360"/><text class="n" x="360">32</text><circle class="R" cx="408"/><text class="n" x="408">35</text><circle class="R" cx="456"/><text class="n" x="456">18</text><circle class="R" cx="504"/><text class="n" x="504">7</text><circle class="R" cx="553"/><text class="n" x="553">30</text><circle class="B" cx="601"/><text class="n" x="601">25</text><text class="pl" x="635">✚</text><circle class="B" cx="668"/><text class="n" x="668">41</text>
<circle cx="720"/><text x="720">鼠</text><circle cx="1038"/><text x="1038">金</text><circle cx="1183"/><text x="1183">大</text><circle cx="1260"/><text x="1260">单</text><circle cx="1362"/><text class="s" x="1362">头双</text><circle cx="1438"/><text class="s" x="1438">尾小</text><circle cx="1490"/><text class="s" x="1490">合单</text><circle cx="1566"/><text x="1566">质</text>
<circle cx="1643"/><text class="k" x="1643">前</text><circle cx="1744"/><text x="1744">地</text><circle cx="1796"/><text class="s" x="1796">黑夜</text><circle cx="1896"/><text class="s" x="1896">凶丑</text><circle cx="1974"/><text class="s" x="1974">野兽</text><circle cx="2050"/><text class="s" x="2050">胆小</text><circle cx="2104"/><text x="2104">男</text><circle cx="2180"/><text class="k" x="2180">独</text><circle cx="2283"/><text x="2283">棋</text><circle cx="2455"/><text x="2455">冬</text><circle cx="2532"/><text class="s" x="2532">吃菜</text><circle cx="2610"/><text class="s" x="2610">红肖</text></g>

<g transform="translate(0,658.5)"><text class="p" x="120">2024-345</text><text class="d" x="264">12-10(二)</text><circle class="R" cx="360"/><text class="n" x="360">45</text><circle class="B" cx="408"/><text class="n" x="408">48</text><circle class="G" cx="456"/><text class="n" x="456">44</text><circle class="G" cx="504"/><text class="n" x="504">38</text><circle class="R" cx="553"/><text class="n" x="553">34</text><circle class="R" cx="601"/><text class="n" x="601">30</text><text class="pl" x="635">✚</text><circle class="R" cx="668"/><text class="n" x="668">46</text>
<circle cx="889"/><text x="889">羊</text><circle cx="1110"/><text x="1110">火</text><circle cx="1183"/><text x="1183">大</text><circle cx="1284"/><text x="1284">双</text><circle cx="1362"/><text class="s" x="1362">头双</text><circle cx="1414"/><text class="s" x="1414">尾大</text><circle cx="1515"/><text class="s" x="1515">合双</text><circle cx="1590"/><text x="1590">合</text>
<circle cx="1667"/><text class="k" x="1667">后</text><circle cx="1744"/><text x="1744">地</text><circle cx="1820"/><text class="s" x="1820">白日</text><circle cx="1873"/><text class="s" x="1873">吉美</text><circle cx="1950"/><text class="s" x="1950">家畜</text><circle cx="2050"/><text class="s" x="2050">胆小</text><circle cx="2127"/><text x="2127">女</text><circle cx="2180"/><text class="k" x="2180">独</text><circle cx="2330"/><text x="2330">画</text><circle cx="2406"/><text x="2406">夏</text><circle cx="2556"/><text class="s" x="2556">吃草</text><circle cx="2658"/><text class="s" x="2658">绿肖</text></g>

<g transform="translate(0,696.5)"><text class="p" x="120">2024-344</text><text class="d" x="264">12-09(一)</text><circle class="B" cx="360"/><text class="n" x="360">15</text><circle class="B" cx="408"/><text class="n" x="408">25</text><circle class="G" cx="456"/><text class="n" x="456">11</text><circle class="G" cx="504"/><text class="n" x="504">28</text><circle class="B" cx="553"/><text class="n" x="553">42</text><circle class="G" cx="601"/><text class="n" x="601">49</text><text class="pl" x="635">✚</text><circle class="R" cx="668"/><text class="n" x="668">2</text>
<circle cx="793"/><text x="793">兔</text><circle cx="1038"/><text x="1038">金</text><circle cx="1208"/><text x="1208">小</text><circle cx="1284"/><text x="1284">双</text><circle cx="1362"/><text class="s" x="1362">头双</text><circle cx="1438"/><text class="s" x="1438">尾小</text><circle cx="1515"/><text class="s" x="1515">合双</text><circle cx="1566"/><text x="1566">质</text>
<circle cx="1643"/><text class="k" x="1643">前</text><circle cx="1719"/><text x="1719">天</text><circle cx="1820"/><text class="s" x="1820">白日</text><circle cx="1873"/><text class="s" x="1873">吉美</text><circle cx="1974"/><text class="s" x="1974">野兽</text><circle cx="2050"/><text class="s" x="2050">胆小</text><circle cx="2127"/><text x="2127">女</text><circle cx="2180"/><text class="k" x="2180">独</text><circle cx="2259"/><text x="2259">琴</text><circle cx="2382"/><text x="2382">春</text><circle cx="2556"/><text class="s" x="2556">吃草</text><circle cx="2610"/><text class="s" x="2610">红肖</text></g>

<g transform="translate(0,734.5)"><text class="p" x="120">2024-343</text><text class="d" x="264">12-08(日)</text><circle class="R" cx="360"/><text class="n" x="360">8</text><circle class="B" cx="408"/><text class="n" x="408">47</text><circle class="B" cx="456"/><text class="n" x="456">20</text><circle class="G" cx="504"/><text class="n" x="504">27</text><circle class="R" cx="553"/><text class="n" x="553">2</text><circle class="R" cx="601"/><text class="n" x="601">35</text><text class="pl" x="635">✚</text><circle class="R" cx="668"/><text class="n" x="668">45</text>
<circle cx="913"/><text x="913">猴</text><circle cx="1062"/><text x="1062">木</text><circle cx="1183"/><text x="1183">大</text><circle cx="1260"/><text x="1260">单</text><circle cx="1362"/><text class="s" x="1362">头双</text><circle cx="1414"/><text class="s" x="1414">尾大</text><circle cx="1490"/><text class="s" x="1490">合单</text><circle cx="1590"/><text x="1590">合</text>
<circle cx="1667"/><text class="k" x="1667">后</text><circle cx="1719"/><text x="1719">天</text><circle cx="1820"/><text class="s" x="1820">白日</text><circle cx="1896"/><text class="s" x="1896">凶丑</text><circle cx="1974"/><text class="s" x="1974">野兽</text><circle cx="2027"/><text class="s" x="2027">胆大</text><circle cx="2104"/><text x="2104">男</text><circle cx="2204"/><text class="k" x="2204">合</text><circle cx="2330"/><text x="2330">画</text><circle cx="2431"/><text x="2431">秋</text><circle cx="2532"/><text class="s" x="2532">吃菜</text><circle cx="2634"/><text class="s" x="2634">蓝肖</text></g>

<g transform="translate(0,772.5)"><text class="p" x="120">2024-342</text><text class="d" x="264">12-07(六)</text><circle class="R" cx="360"/><text class="n" x="360">29</text><circle class="G" cx="408"/><text class="n" x="408">33</text><circle class="R" cx="456"/><text class="n" x="456">23</text><circle class="G" cx="504"/><text class="n" x="504">16</text><circle class="B" cx="553"/><text class="n" x="553">48</text><circle class="R" cx="601"/><text class="n" x="601">35</text><text class="pl" x="635">✚</text><circle class="G" cx="668"/><text class="n" x="668">49</text>
<circle cx="817"/><text x="817">龙</text><circle cx="1134"/><text x="1134">土</text><circle cx="1195"/><text x="1195">和</text><circle cx="1272"/><text x="1272">和</text><circle cx="1362"/><text class="s" x="1362">头双</text><circle cx="1414"/><text class="s" x="1414">尾大</text><circle cx="1490"/><text class="s" x="1490">合单</text><circle cx="1590"/><text x="1590">合</text>
<circle cx="1643"/><text class="k" x="1643">前</text><circle cx="1719"/><text x="1719">天</text><circle cx="1820"/><text class="s" x="1820">白日</text><circle cx="1873"/><text class="s" x="1873">吉美</text><circle cx="1974"/><text class="s" x="1974">野兽</text><circle cx="2050"/><text class="s" x="2050">胆小</text><circle cx="2104"/><text x="2104">男</text><circle cx="2204"/><text class="k" x="2204">合</text><circle cx="2306"/><text x="2306">书</text><circle cx="2382"/><text x="2382">春</text><circle cx="2507"/><text class="s" x="2507">吃肉</text><circle cx="2658"/><text class="s" x="2658">绿肖</text></g>

<g transform="translate(0,810.5)"><text class="p" x="120">2024-341</text><text class="d" x="264">12-06(五)</text><circle class="B" cx="360"/><text class="n" x="360">9</text><circle class="B" cx="408"/><text class="n" x="408">26</text><circle class="G" cx="456"/><text class="n" x="456">6</text><circle class="R" cx="504"/><text class="n" x="504">19</text><circle class="R" cx="553"/><text class="n" x="553">46</text><circle class="G" cx="601"/><text class="n" x="601">43</text><text class="pl" x="635">✚</text><circle class="R" cx="668"/><text class="n" x="668">18</text>
<circle cx="986"/><text x="986">猪</text><circle cx="1134"/><text x="1134">土</text><circle cx="1208"/><text x="1208">小</text><circle cx="1284"/><text x="1284">双</text><circle cx="1338"/><text class="s" x="1338">头单</text><circle cx="1414"/><text class="s" x="1414">尾大</text><circle cx="1490"/><text class="s" x="1490">合单</text><circle cx="1590"/><text x="1590">合</text>
<circle cx="1667"/><text class="k" x="1667">后</text><circle cx="1719"/><text x="1719">天</text><circle cx="1796"/><text class="s" x="1796">黑夜</text><circle cx="1896"/><text class="s" x="1896">凶丑</text><circle cx="1950"/><text class="s" x="1950">家畜</text><circle cx="2027"/><text class="s" x="2027">胆大</text><circle cx="2127"/><text x="2127">女</text><circle cx="2204"/><text class="k" x="2204">合</text><circle cx="2330"/><text x="2330">画</text><circle cx="2455"/><text x="2455">冬</text><circle cx="2532"/><text class="s" x="2532">吃菜</text><circle cx="2634"/><text class="s" x="2634">蓝肖</text></g>

<g transform="translate(0,848.5)"><text class="p" x="120">2024-340</text><text class="d" x="264">12-05(四)</text><circle class="R" cx="360"/><text class="n" x="360">8</text><circle class="G" cx="408"/><text class="n" x="408">38</text><circle class="R" cx="456"/><text class="n" x="456">30</text><circle class="R" cx="504"/><text class="n" x="504">45</text><circle class="B" cx="553"/><text class="n" x="553">9</text><circle class="B" cx="601"/><text class="n" x="601">42</text><text class="pl" x="635">✚</text><circle class="B" cx="668"/><text class="n" x="668">47</text>
<circle cx="865"/><text x="865">马</text><circle cx="1110"/><text x="1110">火</text><circle cx="1183"/><text x="1183">大</text><circle cx="1260"/><text x="1260">单</text><circle cx="1362"/><text class="s" x="1362">头双</text><circle cx="1414"/><text class="s" x="1414">尾大</text><circle cx="1490"/><text class="s" x="1490">合单</text><circle cx="1566"/><text x="1566">质</text>
<circle cx="1667"/><text class="k" x="1667">后</text><circle cx="1719"/><text x="1719">天</text><circle cx="1820"/><text class="s" x="1820">白日</text><circle cx="1873"/><text class="s" x="1873">吉美</text><circle cx="1950"/><text class="s" x="1950">家畜</text><circle cx="2027"/><text class="s" x="2027">胆大</text><circle cx="2104"/><text x="2104">男</text><circle cx="2180"/><text class="k" x="2180">独</text><circle cx="2306"/><text x="2306">书</text><circle cx="2406"/><text x="2406">夏</text><circle cx="2556"/><text class="s" x="2556">吃草</text><circle cx="2610"/><text class="s" x="2610">红肖</text></g>

<g transform="translate(0,886.5)"><text class="p" x="120">2024-339</text><text class="d" x="264">12-04(三)</text><circle class="B" cx="360"/><text class="n" x="360">25</text><circle class="B" cx="408"/><text class="n" x="408">41</text><circle class="R" cx="456"/><text class="n" x="456">40</text><circle class="B" cx="504"/><text class="n" x="504">42</text><circle class="R" cx="553"/><text class="n" x="553">29</text><circle class="B" cx="601"/><text class="n" x="601">15</text><text class="pl" x="635">✚</text><circle class="G" cx="668"/><text class="n" x="668">38</text>
<circle cx="793"/><text x="793">兔</text><circle cx="1110"/><text x="1110">火</text><circle cx="1183"/><text x="1183">大</text><circle cx="1284"/><text x="1284">双</text><circle cx="1338"/><text class="s" x="1338">头单</text><circle cx="1414"/><text class="s" x="1414">尾大</text><circle cx="1490"/><text class="s" x="1490">合单</text><circle cx="1590"/><text x="1590">合</text>
<circle cx="1643"/><text class="k" x="1643">前</text><circle cx="1719"/><text x="1719">天</text><circle cx="1820"/><text class="s" x="1820">白日</text><circle cx="1873"/><text class="s" x="1873">吉美</text><circle cx="1974"/><text class="s" x="1974">野兽</text><circle cx="2050"/><text class="s" x="2050">胆小</text><circle cx="2127"/><text x="2127">女</text><circle cx="2180"/><text class="k" x="2180">独</text><circle cx="2259"/><text x="2259">琴</text><circle cx="2382"/><text x="2382">春</text><circle cx="2556"/><text class="s" x="2556">吃草</text><circle cx="2610"/><text class="s" x="2610">红肖</text></g>

<g transform="translate(0,924.5)"><text class="p" x="120">2024-338</text><text class="d" x="264">12-03(二)</text><circle class="B" cx="360"/><text class="n" x="360">15</text><circle class="G" cx="408"/><text class="n" x="408">39</text><circle class="G" cx="456"/><text class="n" x="456">49</text><circle class="R" cx="504"/><text class="n" x="504">45</text><circle class="G" cx="553"/><text class="n" x="553">28</text><circle class="G" cx="601"/><text class="n" x="601">22</text><text class="pl" x="635">✚</text><circle class="R" cx="668"/><text class="n" x="668">40</text>
<circle cx="744"/><text x="744">牛</text><circle cx="1038"/><text x="1038">金</text><circle cx="1183"/><text x="1183">大</text><circle cx="1284"/><text x="1284">双</text><circle cx="1362"/><text class="s" x="1362">头双</text><circle cx="1438"/><text class="s" x="1438">尾小</text><circle cx="1515"/><text class="s" x="1515">合双</text><circle cx="1590"/><text x="1590">合</text>
<circle cx="1643"/><text class="k" x="1643">前</text><circle cx="1719"/><text x="1719">天</text><circle cx="1796"/><text class="s" x="1796">黑夜</text><circle cx="1896"/><text class="s" x="1896">凶丑</text><circle cx="1950"/><text class="s" x="1950">家畜</text><circle cx="2027"/><text class="s" x="2027">胆大</text><circle cx="2104"/><text x="2104">男</text><circle cx="2180"/><text class="k" x="2180">独</text><circle cx="2283"/><text x="2283">棋</text><circle cx="2455"/><text x="2455">冬</text><circle cx="2556"/><text class="s" x="2556">吃草</text><circle cx="2658"/><text class="s" x="2658">绿肖</text></g>

<g transform="translate(0,962.5)"><text class="p" x="120">2024-337</text><text class="d" x="264">12-02(一)</text><circle class="B" cx="360"/><text class="n" x="360">4</text><circle class="G" cx="408"/><text class="n" x="408">32</text><circle class="R" cx="456"/><text class="n" x="456">29</text><circle class="R" cx="504"/><text class="n" x="504">45</text><circle class="B" cx="553"/><text class="n" x="553">36</text><circle class="R" cx="601"/><text class="n" x="601">23</text><text class="pl" x="635">✚</text><circle class="B" cx="668"/><text class="n" x="668">48</text>
<circle cx="841"/><text x="841">蛇</text><circle cx="1134"/><text x="1134">土</text><circle cx="1183"/><text x="1183">大</text><circle cx="1284"/><text x="1284">双</text><circle cx="1362"/><text class="s" x="1362">头双</text><circle cx="1414"/><text class="s" x="1414">尾大</text><circle cx="1515"/><text class="s" x="1515">合双</text><circle cx="1590"/><text x="1590">合</text>
<circle cx="1643"/><text class="k" x="1643">前</text><circle cx="1744"/><text x="1744">地</text><circle cx="1820"/><text class="s" x="1820">白日</text><circle cx="1873"/><text class="s" x="1873">吉美</text><circle cx="1974"/><text class="s" x="1974">野兽</text><circle cx="2050"/><text class="s" x="2050">胆小</text><circle cx="2127"/><text x="2127">女</text><circle cx="2204"/><text class="k" x="2204">合</text><circle cx="2259"/><text x="2259">琴</text><circle cx="2406"/><text x="2406">夏</text><circle cx="2507"/><text class="s" x="2507">吃肉</text><circle cx="2634"/><text class="s" x="2634">蓝肖</text></g>

<g transform="translate(0,1000.5)"><text class="p" x="120">2024-336</text><text class="d" x="264">12-01(日)</text><circle class="G" cx="360"/><text class="n" x="360">32</text><circle class="G" cx="408"/><text class="n" x="408">39</text><circle class="G" cx="456"/><text class="n" x="456">33</text><circle class="B" cx="504"/><text class="n" x="504">36</text><circle class="R" cx="553"/><text class="n" x="553">40</text><circle class="B" cx="601"/><text class="n" x="601">15</text><text class="pl" x="635">✚</text><circle class="G" cx="668"/><text class="n" x="668">5</text>
<circle cx="720"/><text x="720">鼠</text><circle cx="1134"/><text x="1134">土</text><circle cx="1208"/><text x="1208">小</text><circle cx="1260"/><text x="1260">单</text><circle cx="1362"/><text class="s" x="1362">头双</text><circle cx="1414"/><text class="s" x="1414">尾大</text><circle cx="1490"/><text class="s" x="1490">合单</text><circle cx="1566"/><text x="1566">质</text>
<circle cx="1643"/><text class="k" x="1643">前</text><circle cx="1744"/><text x="1744">地</text><circle cx="1796"/><text class="s" x="1796">黑夜</text><circle cx="1896"/><text class="s" x="1896">凶丑</text><circle cx="1974"/><text class="s" x="1974">野兽</text><circle cx="2050"/><text class="s" x="2050">胆小</text><circle cx="2104"/><text x="2104">男</text><circle cx="2180"/><text class="k" x="2180">独</text><circle cx="2283"/><text x="2283">棋</text><circle cx="2455"/><text x="2455">冬</text><circle cx="2532"/><text class="s" x="2532">吃菜</text><circle cx="2610"/><text class="s" x="2610">红肖</text></g>

<g transform="translate(0,1038.5)"><text class="p" x="120">2024-335</text><text class="d" x="264">11-30(六)</text><circle class="G" cx="360"/><text class="n" x="360">5</text><circle class="B" cx="408"/><text class="n" x="408">42</text><circle class="G" cx="456"/><text class="n" x="456">49</text><circle class="B" cx="504"/><text class="n" x="504">10</text><circle class="R" cx="553"/><text class="n" x="553">40</text><circle class="B" cx="601"/><text class="n" x="601">36</text><text class="pl" x="635">✚</text><circle class="R" cx="668"/><text class="n" x="668">34</text>
<circle cx="889"/><text x="889">羊</text><circle cx="1134"/><text x="1134">土</text><circle cx="1183"/><text x="1183">大</text><circle cx="1284"/><text x="1284">双</text><circle cx="1338"/><text class="s" x="1338">头单</text><circle cx="1438"/><text class="s" x="1438">尾小</text><circle cx="1490"/><text class="s" x="1490">合单</text><circle cx="1590"/><text x="1590">合</text>
<circle cx="1667"/><text class="k" x="1667">后</text><circle cx="1744"/><text x="1744">地</text><circle cx="1820"/><text class="s" x="1820">白日</text><circle cx="1873"/><text class="s" x="1873">吉美</text><circle cx="1950"/><text class="s" x="1950">家畜</text><circle cx="2050"/><text class="s" x="2050">胆小</text><circle cx="2127"/><text x="2127">女</text><circle cx="2180"/><text class="k" x="2180">独</text><circle cx="2330"/><text x="2330">画</text><circle cx="2406"/><text x="2406">夏</text><circle cx="2556"/><text class="s" x="2556">吃草</text><circle cx="2658"/><text class="s" x="2658">绿肖</text></g>

<g transform="translate(0,1076.5)"><text class="p" x="120">2024-334</text><text class="d" x="264">11-29(五)</text><circle class="B" cx="360"/><text class="n" x="360">10</text><circle class="R" cx="408"/><text class="n" x="408">2</text><circle class="G" cx="456"/><text class="n" x="456">39</text><circle class="B" cx="504"/><text class="n" x="504">36</text><circle class="B" cx="553"/><text class="n" x="553">47</text><circle class="B" cx="601"/><text class="n" x="601">42</text><text class="pl" x="635">✚</text><circle class="R" cx="668"/><text class="n" x="668">46</text>
<circle cx="889"/><text x="889">羊</text><circle cx="1110"/><text x="1110">火</text><circle cx="1183"/><text x="1183">大</text><circle cx="1284"/><text x="1284">双</text><circle cx="1362"/><text class="s" x="1362">头双</text><circle cx="1414"/><text class="s" x="1414">尾大</text><circle cx="1515"/><text class="s" x="1515">合双</text><circle cx="1590"/><text x="1590">合</text>
<circle cx="1667"/><text class="k" x="1667">后</text><circle cx="1744"/><text x="1744">地</text><circle cx="1820"/><text class="s" x="1820">白日</text><circle cx="1873"/><text class="s" x="1873">吉美</text><circle cx="1950"/><text class="s" x="1950">家畜</text><circle cx="2050"/><text class="s" x="2050">胆小</text><circle cx="2127"/><text x="2127">女</text><circle cx="2180"/><text class="k" x="2180">独</text><circle cx="2330"/><text x="2330">画</text><circle cx="2406"/><text x="2406">夏</text><circle cx="2556"/><text class="s" x="2556">吃草</text><circle cx="2658"/><text class="s" x="2658">绿肖</text></g>

<g transform="translate(0,1114.5)"><text class="p" x="120">2024-333</text><text class="d" x="264">11-28(四)</text><circle class="B" cx="360"/><text class="n" x="360">37</text><circle class="G" cx="408"/><text class="n" x="408">49</text><circle class="G" cx="456"/><text class="n" x="456">5</text><circle class="G" cx="504"/><text class="n" x="504">11</text><circle class="R" cx="553"/><text class="n" x="553">19</text><circle class="G" cx="601"/><text class="n" x="601">6</text><text class="pl" x="635">✚</text><circle class="B" cx="668"/><text class="n" x="668">4</text>
<circle cx="744"/><text x="744">牛</text><circle cx="1134"/><text x="1134">土</text><circle cx="1208"/><text x="1208">小</text><circle cx="1284"/><text x="1284">双</text><circle cx="1362"/><text class="s" x="1362">头双</text><circle cx="1438"/><text class="s" x="1438">尾小</text><circle cx="1515"/><text class="s" x="1515">合双</text><circle cx="1590"/><text x="1590">合</text>
<circle cx="1643"/><text class="k" x="1643">前</text><circle cx="1719"/><text x="1719">天</text><circle cx="1796"/><text class="s" x="1796">黑夜</text><circle cx="1896"/><text class="s" x="1896">凶丑</text><circle cx="1950"/><text class="s" x="1950">家畜</text><circle cx="2027"/><text class="s" x="2027">胆大</text><circle cx="2104"/><text x="2104">男</text><circle cx="2180"/><text class="k" x="2180">独</text><circle cx="2283"/><text x="2283">棋</text><circle cx="2455"/><text x="2455">冬</text><circle cx="2556"/><text class="s" x="2556">吃草</text><circle cx="2658"/><text class="s" x="2658">绿肖</text></g>

<g transform="translate(0,1152.5)"><text class="p" x="120">2024-332</text><text class="d" x="264">11-27(三)</text><circle class="G" cx="360"/><text class="n" x="360">5</text><circle class="R" cx="408"/><text class="n" x="408">35</text><circle class="G" cx="456"/><text class="n" x="456">44</text><circle class="G" cx="504"/><text class="n" x="504">49</text><circle class="R" cx="553"/><text class="n" x="553">40</text><circle class="G" cx="601"/><text class="n" x="601">11</text><text class="pl" x="635">✚</text><circle class="G" cx="668"/><text class="n" x="668">32</text>
<circle cx="938"/><text x="938">鸡</text><circle cx="1038"/><text x="1038">金</text><circle cx="1183"/><text x="1183">大</text><circle cx="1284"/><text x="1284">双</text><circle cx="1338"/><text class="s" x="1338">头单</text><circle cx="1438"/><text class="s" x="1438">尾小</text><circle cx="1490"/><text class="s" x="1490">合单</text><circle cx="1590"/><text x="1590">合</text>
<circle cx="1667"/><text class="k" x="1667">后</text><circle cx="1744"/><text x="1744">地</text><circle cx="1796"/><text class="s" x="1796">黑夜</text><circle cx="1873"/><text class="s" x="1873">吉美</text><circle cx="1950"/><text class="s" x="1950">家畜</text><circle cx="2050"/><text class="s" x="2050">胆小</text><circle cx="2127"/><text x="2127">女</text><circle cx="2204"/><text class="k" x="2204">合</text><circle cx="2259"/><text x="2259">琴</text><circle cx="2431"/><text x="2431">秋</text><circle cx="2532"/><text class="s" x="2532">吃菜</text><circle cx="2610"/><text class="s" x="2610">红肖</text></g>

<g transform="translate(0,1190.5)"><text class="p" x="120">2024-331</text><text class="d" x="264">11-26(二)</text><circle class="B" cx="360"/><text class="n" x="360">4</text><circle class="G" cx="408"/><text class="n" x="408">17</text><circle class="B" cx="456"/><text class="n" x="456">3</text><circle class="B" cx="504"/><text class="n" x="504">20</text><circle class="G" cx="553"/><text class="n" x="553">5</text><circle class="R" cx="601"/><text class="n" x="601">19</text><text class="pl" x="635">✚</text><circle class="G" cx="668"/><text class="n" x="668">6</text>
<circle cx="986"/><text x="986">猪</text><circle cx="1062"/><text x="1062">木</text><circle cx="1208"/><text x="1208">小</text><circle cx="1284"/><text x="1284">双</text><circle cx="1362"/><text class="s" x="1362">头双</text><circle cx="1414"/><text class="s" x="1414">尾大</text><circle cx="1515"/><text class="s" x="1515">合双</text><circle cx="1590"/><text x="1590">合</text>
<circle cx="1667"/><text class="k" x="1667">后</text><circle cx="1719"/><text x="1719">天</text><circle cx="1796"/><text class="s" x="1796">黑夜</text><circle cx="1896"/><text class="s" x="1896">凶丑</text><circle cx="1950"/><text class="s" x="1950">家畜</text><circle cx="2027"/><text class="s" x="2027">胆大</text><circle cx="2127"/><text x="2127">女</text><circle cx="2204"/><text class="k" x="2204">合</text><circle cx="2330"/><text x="2330">画</text><circle cx="2455"/><text x="2455">冬</text><circle cx="2532"/><text class="s" x="2532">吃菜</text><circle cx="2634"/><text class="s" x="2634">蓝肖</text></g>

<g transform="translate(0,1228.5)"><text class="p" x="120">2024-330</text><text class="d" x="264">11-25(一)</text><circle class="B" cx="360"/><text class="n" x="360">36</text><circle class="B" cx="408"/><text class="n" x="408">31</text><circle class="B" cx="456"/><text class="n" x="456">42</text><circle class="B" cx="504"/><text class="n" x="504">48</text><circle class="B" cx="553"/><text class="n" x="553">41</text><circle class="R" cx="601"/><text class="n" x="601">2</text><text class="pl" x="635">✚</text><circle class="G" cx="668"/><text class="n" x="668">11</text>
<circle cx="865"/><text x="865">马</text><circle cx="1038"/><text x="1038">金</text><circle cx="1208"/><text x="1208">小</text><circle cx="1260"/><text x="1260">单</text><circle cx="1338"/><text class="s" x="1338">头单</text><circle cx="1438"/><text class="s" x="1438">尾小</text><circle cx="1515"/><text class="s" x="1515">合双</text><circle cx="1566"/><text x="1566">质</text>
<circle cx="1667"/><text class="k" x="1667">后</text><circle cx="1719"/><text x="1719">天</text><circle cx="1820"/><text class="s" x="1820">白日</text><circle cx="1873"/><text class="s" x="1873">吉美</text><circle cx="1950"/><text class="s" x="1950">家畜</text><circle cx="2027"/><text class="s" x="2027">胆大</text><circle cx="2104"/><text x="2104">男</text><circle cx="2180"/><text class="k" x="2180">独</text><circle cx="2306"/><text x="2306">书</text><circle cx="2406"/><text x="2406">夏</text><circle cx="2556"/><text class="s" x="2556">吃草</text><circle cx="2610"/><text class="s" x="2610">红肖</text></g>

<g transform="translate(0,1266.5)"><text class="p" x="120">2024-329</text><text class="d" x="264">11-24(日)</text><circle class="R" cx="360"/><text class="n" x="360">2</text><circle class="G" cx="408"/><text class="n" x="408">16</text><circle class="B" cx="456"/><text class="n" x="456">15</text><circle class="R" cx="504"/><text class="n" x="504">1</text><circle class="R" cx="553"/><text class="n" x="553">13</text><circle class="G" cx="601"/><text class="n" x="601">17</text><text class="pl" x="635">✚</text><circle class="B" cx="668"/><text class="n" x="668">14</text>
<circle cx="793"/><text x="793">兔</text><circle cx="1062"/><text x="1062">木</text><circle cx="1208"/><text x="1208">小</text><circle cx="1284"/><text x="1284">双</text><circle cx="1338"/><text class="s" x="1338">头单</text><circle cx="1438"/><text class="s" x="1438">尾小</text><circle cx="1490"/><text class="s" x="1490">合单</text><circle cx="1590"/><text x="1590">合</text>
<circle cx="1643"/><text class="k" x="1643">前</text><circle cx="1719"/><text x="1719">天</text><circle cx="1820"/><text class="s" x="1820">白日</text><circle cx="1873"/><text class="s" x="1873">吉美</text><circle cx="1974"/><text class="s" x="1974">野兽</text><circle cx="2050"/><text class="s" x="2050">胆小</text><circle cx="2127"/><text x="2127">女</text><circle cx="2180"/><text class="k" x="2180">独</text><circle cx="2259"/><text x="2259">琴</text><circle cx="2382"/><text x="2382">春</text><circle cx="2556"/><text class="s" x="2556">吃草</text><circle cx="2610"/><text class="s" x="2610">红肖</text></g>

<g transform="translate(0,1304.5)"><text class="p" x="120">2024-328</text><text class="d" x="264">11-23(六)</text><circle class="B" cx="360"/><text class="n" x="360">48</text><circle class="G" cx="408"/><text class="n" x="408">5</text><circle class="G" cx="456"/><text class="n" x="456">44</text><circle class="G" cx="504"/><text class="n" x="504">27</text><circle class="R" cx="553"/><text class="n" x="553">40</text><circle class="B" cx="601"/><text class="n" x="601">31</text><text class="pl" x="635">✚</text><circle class="B" cx="668"/><text class="n" x="668">20</text>
<circle cx="938"/><text x="938">鸡</text><circle cx="1086"/><text x="1086">水</text><circle cx="1208"/><text x="1208">小</text><circle cx="1284"/><text x="1284">双</text><circle cx="1362"/><text class="s" x="1362">头双</text><circle cx="1438"/><text class="s" x="1438">尾小</text><circle cx="1515"/><text class="s" x="1515">合双</text><circle cx="1590"/><text x="1590">合</text>
<circle cx="1667"/><text class="k" x="1667">后</text><circle cx="1744"/><text x="1744">地</text><circle cx="1796"/><text class="s" x="1796">黑夜</text><circle cx="1873"/><text class="s" x="1873">吉美</text><circle cx="1950"/><text class="s" x="1950">家畜</text><circle cx="2050"/><text class="s" x="2050">胆小</text><circle cx="2127"/><text x="2127">女</text><circle cx="2204"/><text class="k" x="2204">合</text><circle cx="2259"/><text x="2259">琴</text><circle cx="2431"/><text x="2431">秋</text><circle cx="2532"/><text class="s" x="2532">吃菜</text><circle cx="2610"/><text class="s" x="2610">红肖</text></g>

<g transform="translate(0,1342.5)"><text class="p" x="120">2024-327</text><text class="d" x="264">11-22(五)</text><circle class="G" cx="360"/><text class="n" x="360">11</text><circle class="R" cx="408"/><text class="n" x="408">7</text><circle class="R" cx="456"/><text class="n" x="456">2</text><circle class="R" cx="504"/><text class="n" x="504">13</text><circle class="B" cx="553"/><text class="n" x="553">3</text><circle class="B" cx="601"/><text class="n" x="601">15</text><text class="pl" x="635">✚</text><circle class="B" cx="668"/><text class="n" x="668">41</text>
<circle cx="720"/><text x="720">鼠</text><circle cx="1038"/><text x="1038">金</text><circle cx="1183"/><text x="1183">大</text><circle cx="1260"/><text x="1260">单</text><circle cx="1362"/><text class="s" x="1362">头双</text><circle cx="1438"/><text class="s" x="1438">尾小</text><circle cx="1490"/><text class="s" x="1490">合单</text><circle cx="1566"/><text x="1566">质</text>
<circle cx="1643"/><text class="k" x="1643">前</text><circle cx="1744"/><text x="1744">地</text><circle cx="1796"/><text class="s" x="1796">黑夜</text><circle cx="1896"/><text class="s" x="1896">凶丑</text><circle cx="1974"/><text class="s" x="1974">野兽</text><circle cx="2050"/><text class="s" x="2050">胆小</text><circle cx="2104"/><text x="2104">男</text><circle cx="2180"/><text class="k" x="2180">独</text><circle cx="2283"/><text x="2283">棋</text><circle cx="2455"/><text x="2455">冬</text><circle cx="2532"/><text class="s" x="2532">吃菜</text><circle cx="2610"/><text class="s" x="2610">红肖</text></g>

<g transform="translate(0,1380.5)"><text class="p" x="120">2024-326</text><text class="d" x="264">11-21(四)</text><circle class="B" cx="360"/><text class="n" x="360">47</text><circle class="G" cx="408"/><text class="n" x="408">6</text><circle class="G" cx="456"/><text class="n" x="456">39</text><circle class="B" cx="504"/><text class="n" x="504">10</text><circle class="R" cx="553"/><text class="n" x="553">1</text><circle class="G" cx="601"/><text class="n" x="601">5</text><text class="pl" x="635">✚</text><circle class="R" cx="668"/><text class="n" x="668">19</text>
<circle cx="962"/><text x="962">狗</text><circle cx="1134"/><text x="1134">土</text><circle cx="1208"/><text x="1208">小</text><circle cx="1260"/><text x="1260">单</text><circle cx="1338"/><text class="s" x="1338">头单</text><circle cx="1414"/><text class="s" x="1414">尾大</text><circle cx="1515"/><text class="s" x="1515">合双</text><circle cx="1566"/><text x="1566">质</text>
<circle cx="1667"/><text class="k" x="1667">后</text><circle cx="1744"/><text x="1744">地</text><circle cx="1796"/><text class="s" x="1796">黑夜</text><circle cx="1896"/><text class="s" x="1896">凶丑</text><circle cx="1950"/><text class="s" x="1950">家畜</text><circle cx="2027"/><text class="s" x="2027">胆大</text><circle cx="2104"/><text x="2104">男</text><circle cx="2204"/><text class="k" x="2204">合</text><circle cx="2283"/><text x="2283">棋</text><circle cx="2431"/><text x="2431">秋</text><circle cx="2507"/><text class="s" x="2507">吃肉</text><circle cx="2658"/><text class="s" x="2658">绿肖</text></g>

<g transform="translate(0,1418.5)"><text class="p" x="120">2024-325</text><text class="d" x="264">11-20(三)</text><circle class="G" cx="360"/><text class="n" x="360">5</text><circle class="B" cx="408"/><text class="n" x="408">3</text><circle class="B" cx="456"/><text class="n" x="456">10</text><circle class="B" cx="504"/><text class="n" x="504">9</text><circle class="G" cx="553"/><text class="n" x="553">32</text><circle class="R" cx="601"/><text class="n" x="601">19</text><text class="pl" x="635">✚</text><circle class="G" cx="668"/><text class="n" x="668">28</text>
<circle cx="744"/><text x="744">牛</text><circle cx="1086"/><text x="1086">水</text><circle cx="1183"/><text x="1183">大</text><circle cx="1284"/><text x="1284">双</text><circle cx="1362"/><text class="s" x="1362">头双</text><circle cx="1414"/><text class="s" x="1414">尾大</text><circle cx="1515"/><text class="s" x="1515">合双</text><circle cx="1590"/><text x="1590">合</text>
<circle cx="1643"/><text class="k" x="1643">前</text><circle cx="1719"/><text x="1719">天</text><circle cx="1796"/><text class="s" x="1796">黑夜</text><circle cx="1896"/><text class="s" x="1896">凶丑</text><circle cx="1950"/><text class="s" x="1950">家畜</text><circle cx="2027"/><text class="s" x="2027">胆大</text><circle cx="2104"/><text x="2104">男</text><circle cx="2180"/><text class="k" x="2180">独</text><circle cx="2283"/><text x="2283">棋</text><circle cx="2455"/><text x="2455">冬</text><circle cx="2556"/><text class="s" x="2556">吃草</text><circle cx="2658"/><text class="s" x="2658">绿肖</text></g>

<g transform="translate(0,1456.5)"><text class="p" x="120">2024-324</text><text class="d" x="264">11-19(二)</text><circle class="R" cx="360"/><text class="n" x="360">24</text><circle class="G" cx="408"/><text class="n" x="408">28</text><circle class="B" cx="456"/><text class="n" x="456">26</text><circle class="R" cx="504"/><text class="n" x="504">2</text><circle class="B" cx="553"/><text class="n" x="553">37</text><circle class="G" cx="601"/><text class="n" x="601">32</text><text class="pl" x="635">✚</text><circle class="R" cx="668"/><text class="n" x="668">1</text>
<circle cx="817"/><text x="817">龙</text><circle cx="1110"/><text x="1110">火</text><circle cx="1208"/><text x="1208">小</text><circle cx="1260"/><text x="1260">单</text><circle cx="1362"/><text class="s" x="1362">头双</text><circle cx="1438"/><text class="s" x="1438">尾小</text><circle cx="1490"/><text class="s" x="1490">合单</text><circle cx="1566"/><text x="1566">质</text>
<circle cx="1643"/><text class="k" x="1643">前</text><circle cx="1719"/><text x="1719">天</text><circle cx="1820"/><text class="s" x="1820">白日</text><circle cx="1873"/><text class="s" x="1873">吉美</text><circle cx="1974"/><text class="s" x="1974">野兽</text><circle cx="2050"/><text class="s" x="2050">胆小</text><circle cx="2104"/><text x="2104">男</text><circle cx="2204"/><text class="k" x="2204">合</text><circle cx="2306"/><text x="2306">书</text><circle cx="2382"/><text x="2382">春</text><circle cx="2507"/><text class="s" x="2507">吃肉</text><circle cx="2658"/><text class="s" x="2658">绿肖</text></g>

<g transform="translate(0,1494.5)"><text class="p" x="120">2024-323</text><text class="d" x="264">11-18(一)</text><circle class="R" cx="360"/><text class="n" x="360">40</text><circle class="R" cx="408"/><text class="n" x="408">19</text><circle class="B" cx="456"/><text class="n" x="456">37</text><circle class="B" cx="504"/><text class="n" x="504">41</text><circle class="B" cx="553"/><text class="n" x="553">15</text><circle class="R" cx="601"/><text class="n" x="601">30</text><text class="pl" x="635">✚</text><circle class="G" cx="668"/><text class="n" x="668">39</text>
<circle cx="769"/><text x="769">虎</text><circle cx="1110"/><text x="1110">火</text><circle cx="1183"/><text x="1183">大</text><circle cx="1260"/><text x="1260">单</text><circle cx="1338"/><text class="s" x="1338">头单</text><circle cx="1414"/><text class="s" x="1414">尾大</text><circle cx="1515"/><text class="s" x="1515">合双</text><circle cx="1590"/><text x="1590">合</text>
<circle cx="1643"/><text class="k" x="1643">前</text><circle cx="1744"/><text x="1744">地</text><circle cx="1796"/><text class="s" x="1796">黑夜</text><circle cx="1896"/><text class="s" x="1896">凶丑</text><circle cx="1974"/><text class="s" x="1974">野兽</text><circle cx="2027"/><text class="s" x="2027">胆大</text><circle cx="2104"/><text x="2104">男</text><circle cx="2180"/><text class="k" x="2180">独</text><circle cx="2306"/><text x="2306">书</text><circle cx="2382"/><text x="2382">春</text><circle cx="2507"/><text class="s" x="2507">吃肉</text><circle cx="2634"/><text class="s" x="2634">蓝肖</text></g>

<g transform="translate(0,1532.5)"><text class="p" x="120">2024-322</text><text class="d" x="264">11-17(日)</text><circle class="G" cx="360"/><text class="n" x="360">5</text><circle class="R" cx="408"/><text class="n" x="408">34</text><circle class="R" cx="456"/><text class="n" x="456">12</text><circle class="B" cx="504"/><text class="n" x="504">9</text><circle class="G" cx="553"/><text class="n" x="553">33</text><circle class="G" cx="601"/><text class="n" x="601">17</text><text class="pl" x="635">✚</text><circle class="G" cx="668"/><text class="n" x="668">27</text>
<circle cx="769"/><text x="769">虎</text><circle cx="1134"/><text x="1134">土</text><circle cx="1183"/><text x="1183">大</text><circle cx="1260"/><text x="1260">单</text><circle cx="1362"/><text class="s" x="1362">头双</text><circle cx="1414"/><text class="s" x="1414">尾大</text><circle cx="1490"/><text class="s" x="1490">合单</text><circle cx="1590"/><text x="1590">合</text>
<circle cx="1643"/><text class="k" x="1643">前</text><circle cx="1744"/><text x="1744">地</text><circle cx="1796"/><text class="s" x="1796">黑夜</text><circle cx="1896"/><text class="s" x="1896">凶丑</text><circle cx="1974"/><text class="s" x="1974">野兽</text><circle cx="2027"/><text class="s" x="2027">胆大</text><circle cx="2104"/><text x="2104">男</text><circle cx="2180"/><text class="k" x="2180">独</text><circle cx="2306"/><text x="2306">书</text><circle cx="2382"/><text x="2382">春</text><circle cx="2507"/><text class="s" x="2507">吃肉</text><circle cx="2634"/><text class="s" x="2634">蓝肖</text></g>

<g transform="translate(0,1570.5)"><text class="p" x="120">2024-321</text><text class="d" x="264">11-16(六)</text><circle class="G" cx="360"/><text class="n" x="360">11</text><circle class="G" cx="408"/><text class="n" x="408">49</text><circle class="G" cx="456"/><text class="n" x="456">22</text><circle class="R" cx="504"/><text class="n" x="504">24</text><circle class="R" cx="553"/><text class="n" x="553">46</text><circle class="B" cx="601"/><text class="n" x="601">42</text><text class="pl" x="635">✚</text><circle class="B" cx="668"/><text class="n" x="668">36</text>
<circle cx="841"/><text x="841">蛇</text><circle cx="1062"/><text x="1062">木</text><circle cx="1183"/><text x="1183">大</text><circle cx="1284"/><text x="1284">双</text><circle cx="1338"/><text class="s" x="1338">头单</text><circle cx="1414"/><text class="s" x="1414">尾大</text><circle cx="1490"/><text class="s" x="1490">合单</text><circle cx="1590"/><text x="1590">合</text>
<circle cx="1643"/><text class="k" x="1643">前</text><circle cx="1744"/><text x="1744">地</text><circle cx="1820"/><text class="s" x="1820">白日</text><circle cx="1873"/><text class="s" x="1873">吉美</text><circle cx="1974"/><text class="s" x="1974">野兽</text><circle cx="2050"/><text class="s" x="2050">胆小</text><circle cx="2127"/><text x="2127">女</text><circle cx="2204"/><text class="k" x="2204">合</text><circle cx="2259"/><text x="2259">琴</text><circle cx="2406"/><text x="2406">夏</text><circle cx="2507"/><text class="s" x="2507">吃肉</text><circle cx="2634"/><text class="s" x="2634">蓝肖</text></g>

<g transform="translate(0,1608.5)"><text class="p" x="120">2024-320</text><text class="d" x="264">11-15(五)</text><circle class="R" cx="360"/><text class="n" x="360">40</text><circle class="G" cx="408"/><text class="n" x="408">32</text><circle class="B" cx="456"/><text class="n" x="456">10</text><circle class="G" cx="504"/><text class="n" x="504">28</text><circle class="R" cx="553"/><text class="n" x="553">18</text><circle class="G" cx="601"/><text class="n" x="601">49</text><text class="pl" x="635">✚</text><circle class="R" cx="668"/><text class="n" x="668">12</text>
<circle cx="841"/><text x="841">蛇</text><circle cx="1086"/><text x="1086">水</text><circle cx="1208"/><text x="1208">小</text><circle cx="1284"/><text x="1284">双</text><circle cx="1338"/><text class="s" x="1338">头单</text><circle cx="1438"/><text class="s" x="1438">尾小</text><circle cx="1490"/><text class="s" x="1490">合单</text><circle cx="1590"/><text x="1590">合</text>
<circle cx="1643"/><text class="k" x="1643">前</text><circle cx="1744"/><text x="1744">地</text><circle cx="1820"/><text class="s" x="1820">白日</text><circle cx="1873"/><text class="s" x="1873">吉美</text><circle cx="1974"/><text class="s" x="1974">野兽</text><circle cx="2050"/><text class="s" x="2050">胆小</text><circle cx="2127"/><text x="2127">女</text><circle cx="2204"/><text class="k" x="2204">合</text><circle cx="2259"/><text x="2259">琴</text><circle cx="2406"/><text x="2406">夏</text><circle cx="2507"/><text class="s" x="2507">吃肉</text><circle cx="2634"/><text class="s" x="2634">蓝肖</text></g>

<g transform="translate(0,1646.5)"><text class="p" x="120">2024-319</text><text class="d" x="264">11-14(四)</text><circle class="G" cx="360"/><text class="n" x="360">16</text><circle class="R" cx="408"/><text class="n" x="408">7</text><circle class="B" cx="456"/><text class="n" x="456">42</text><circle class="G" cx="504"/><text class="n" x="504">33</text><circle class="R" cx="553"/><text class="n" x="553">40</text><circle class="G" cx="601"/><text class="n" x="601">6</text><text class="pl" x="635">✚</text><circle class="B" cx="668"/><text class="n" x="668">41</text>
<circle cx="720"/><text x="720">鼠</text><circle cx="1038"/><text x="1038">金</text><circle cx="1183"/><text x="1183">大</text><circle cx="1260"/><text x="1260">单</text><circle cx="1362"/><text class="s" x="1362">头双</text><circle cx="1438"/><text class="s" x="1438">尾小</text><circle cx="1490"/><text class="s" x="1490">合单</text><circle cx="1566"/><text x="1566">质</text>
<circle cx="1643"/><text class="k" x="1643">前</text><circle cx="1744"/><text x="1744">地</text><circle cx="1796"/><text class="s" x="1796">黑夜</text><circle cx="1896"/><text class="s" x="1896">凶丑</text><circle cx="1974"/><text class="s" x="1974">野兽</text><circle cx="2050"/><text class="s" x="2050">胆小</text><circle cx="2104"/><text x="2104">男</text><circle cx="2180"/><text class="k" x="2180">独</text><circle cx="2283"/><text x="2283">棋</text><circle cx="2455"/><text x="2455">冬</text><circle cx="2532"/><text class="s" x="2532">吃菜</text><circle cx="2610"/><text class="s" x="2610">红肖</text></g>

<g transform="translate(0,1684.5)"><text class="p" x="120">2024-318</text><text class="d" x="264">11-13(三)</text><circle class="G" cx="360"/><text class="n" x="360">39</text><circle class="G" cx="408"/><text class="n" x="408">22</text><circle class="B" cx="456"/><text class="n" x="456">37</text><circle class="G" cx="504"/><text class="n" x="504">27</text><circle class="R" cx="553"/><text class="n" x="553">45</text><circle class="B" cx="601"/><text class="n" x="601">14</text><text class="pl" x="635">✚</text><circle class="G" cx="668"/><text class="n" x="668">44</text>
<circle cx="938"/><text x="938">鸡</text><circle cx="1062"/><text x="1062">木</text><circle cx="1183"/><text x="1183">大</text><circle cx="1284"/><text x="1284">双</text><circle cx="1362"/><text class="s" x="1362">头双</text><circle cx="1438"/><text class="s" x="1438">尾小</text><circle cx="1515"/><text class="s" x="1515">合双</text><circle cx="1590"/><text x="1590">合</text>
<circle cx="1667"/><text class="k" x="1667">后</text><circle cx="1744"/><text x="1744">地</text><circle cx="1796"/><text class="s" x="1796">黑夜</text><circle cx="1873"/><text class="s" x="1873">吉美</text><circle cx="1950"/><text class="s" x="1950">家畜</text><circle cx="2050"/><text class="s" x="2050">胆小</text><circle cx="2127"/><text x="2127">女</text><circle cx="2204"/><text class="k" x="2204">合</text><circle cx="2259"/><text x="2259">琴</text><circle cx="2431"/><text x="2431">秋</text><circle cx="2532"/><text class="s" x="2532">吃菜</text><circle cx="2610"/><text class="s" x="2610">红肖</text></g>

<g transform="translate(0,1722.5)"><text class="p" x="120">2024-317</text><text class="d" x="264">11-12(二)</text><circle class="G" cx="360"/><text class="n" x="360">43</text><circle class="R" cx="408"/><text class="n" x="408">1</text><circle class="R" cx="456"/><text class="n" x="456">18</text><circle class="R" cx="504"/><text class="n" x="504">19</text><circle class="B" cx="553"/><text class="n" x="553">20</text><circle class="B" cx="601"/><text class="n" x="601">9</text><text class="pl" x="635">✚</text><circle class="R" cx="668"/><text class="n" x="668">13</text>
<circle cx="817"/><text x="817">龙</text><circle cx="1086"/><text x="1086">水</text><circle cx="1208"/><text x="1208">小</text><circle cx="1260"/><text x="1260">单</text><circle cx="1338"/><text class="s" x="1338">头单</text><circle cx="1438"/><text class="s" x="1438">尾小</text><circle cx="1515"/><text class="s" x="1515">合双</text><circle cx="1566"/><text x="1566">质</text>
<circle cx="1643"/><text class="k" x="1643">前</text><circle cx="1719"/><text x="1719">天</text><circle cx="1820"/><text class="s" x="1820">白日</text><circle cx="1873"/><text class="s" x="1873">吉美</text><circle cx="1974"/><text class="s" x="1974">野兽</text><circle cx="2050"/><text class="s" x="2050">胆小</text><circle cx="2104"/><text x="2104">男</text><circle cx="2204"/><text class="k" x="2204">合</text><circle cx="2306"/><text x="2306">书</text><circle cx="2382"/><text x="2382">春</text><circle cx="2507"/><text class="s" x="2507">吃肉</text><circle cx="2658"/><text class="s" x="2658">绿肖</text></g>

<g transform="translate(0,1760.5)"><text class="p" x="120">2024-316</text><text class="d" x="264">11-11(一)</text><circle class="G" cx="360"/><text class="n" x="360">44</text><circle class="B" cx="408"/><text class="n" x="408">3</text><circle class="G" cx="456"/><text class="n" x="456">17</text><circle class="R" cx="504"/><text class="n" x="504">12</text><circle class="B" cx="553"/><text class="n" x="553">15</text><circle class="B" cx="601"/><text class="n" x="601">10</text><text class="pl" x="635">✚</text><circle class="G" cx="668"/><text class="n" x="668">5</text>
<circle cx="720"/><text x="720">鼠</text><circle cx="1134"/><text x="1134">土</text><circle cx="1208"/><text x="1208">小</text><circle cx="1260"/><text x="1260">单</text><circle cx="1362"/><text class="s" x="1362">头双</text><circle cx="1414"/><text class="s" x="1414">尾大</text><circle cx="1490"/><text class="s" x="1490">合单</text><circle cx="1566"/><text x="1566">质</text>
<circle cx="1643"/><text class="k" x="1643">前</text><circle cx="1744"/><text x="1744">地</text><circle cx="1796"/><text class="s" x="1796">黑夜</text><circle cx="1896"/><text class="s" x="1896">凶丑</text><circle cx="1974"/><text class="s" x="1974">野兽</text><circle cx="2050"/><text class="s" x="2050">胆小</text><circle cx="2104"/><text x="2104">男</text><circle cx="2180"/><text class="k" x="2180">独</text><circle cx="2283"/><text x="2283">棋</text><circle cx="2455"/><text x="2455">冬</text><circle cx="2532"/><text class="s" x="2532">吃菜</text><circle cx="2610"/><text class="s" x="2610">红肖</text></g>

<g transform="translate(0,1798.5)"><text class="p" x="120">2024-315</text><text class="d" x="264">11-10(日)</text><circle class="R" cx="360"/><text class="n" x="360">30</text><circle class="B" cx="408"/><text class="n" x="408">4</text><circle class="G" cx="456"/><text class="n" x="456">21</text><circle class="R" cx="504"/><text class="n" x="504">18</text><circle class="R" cx="553"/><text class="n" x="553">7</text><circle class="B" cx="601"/><text class="n" x="601">47</text><text class="pl" x="635">✚</text><circle class="R" cx="668"/><text class="n" x="668">35</text>
<circle cx="865"/><text x="865">马</text><circle cx="1134"/><text x="1134">土</text><circle cx="1183"/><text x="1183">大</text><circle cx="1260"/><text x="1260">单</text><circle cx="1338"/><text class="s" x="1338">头单</text><circle cx="1414"/><text class="s" x="1414">尾大</text><circle cx="1515"/><text class="s" x="1515">合双</text><circle cx="1590"/><text x="1590">合</text>
<circle cx="1667"/><text class="k" x="1667">后</text><circle cx="1719"/><text x="1719">天</text><circle cx="1820"/><text class="s" x="1820">白日</text><circle cx="1873"/><text class="s" x="1873">吉美</text><circle cx="1950"/><text class="s" x="1950">家畜</text><circle cx="2027"/><text class="s" x="2027">胆大</text><circle cx="2104"/><text x="2104">男</text><circle cx="2180"/><text class="k" x="2180">独</text><circle cx="2306"/><text x="2306">书</text><circle cx="2406"/><text x="2406">夏</text><circle cx="2556"/><text class="s" x="2556">吃草</text><circle cx="2610"/><text class="s" x="2610">红肖</text></g>

<g transform="translate(0,1836.5)"><text class="p" x="120">2024-314</text><text class="d" x="264">11-09(六)</text><circle class="G" cx="360"/><text class="n" x="360">17</text><circle class="R" cx="408"/><text class="n" x="408">30</text><circle class="R" cx="456"/><text class="n" x="456">40</text><circle class="R" cx="504"/><text class="n" x="504">12</text><circle class="B" cx="553"/><text class="n" x="553">41</text><circle class="B" cx="601"/><text class="n" x="601">15</text><text class="pl" x="635">✚</text><circle class="R" cx="668"/><text class="n" x="668">18</text>
<circle cx="986"/><text x="986">猪</text><circle cx="1134"/><text x="1134">土</text><circle cx="1208"/><text x="1208">小</text><circle cx="1284"/><text x="1284">双</text><circle cx="1338"/><text class="s" x="1338">头单</text><circle cx="1414"/><text class="s" x="1414">尾大</text><circle cx="1490"/><text class="s" x="1490">合单</text><circle cx="1590"/><text x="1590">合</text>
<circle cx="1667"/><text class="k" x="1667">后</text><circle cx="1719"/><text x="1719">天</text><circle cx="1796"/><text class="s" x="1796">黑夜</text><circle cx="1896"/><text class="s" x="1896">凶丑</text><circle cx="1950"/><text class="s" x="1950">家畜</text><circle cx="2027"/><text class="s" x="2027">胆大</text><circle cx="2127"/><text x="2127">女</text><circle cx="2204"/><text class="k" x="2204">合</text><circle cx="2330"/><text x="2330">画</text><circle cx="2455"/><text x="2455">冬</text><circle cx="2532"/><text class="s" x="2532">吃菜</text><circle cx="2634"/><text class="s" x="2634">蓝肖</text></g>

<g transform="translate(0,1874.5)"><text class="p" x="120">2024-313</text><text class="d" x="264">11-08(五)</text><circle class="R" cx="360"/><text class="n" x="360">7</text><circle class="G" cx="408"/><text class="n" x="408">11</text><circle class="B" cx="456"/><text class="n" x="456">48</text><circle class="B" cx="504"/><text class="n" x="504">41</text><circle class="R" cx="553"/><text class="n" x="553">2</text><circle class="B" cx="601"/><text class="n" x="601">15</text><text class="pl" x="635">✚</text><circle class="R" cx="668"/><text class="n" x="668">46</text>
<circle cx="889"/><text x="889">羊</text><circle cx="1110"/><text x="1110">火</text><circle cx="1183"/><text x="1183">大</text><circle cx="1284"/><text x="1284">双</text><circle cx="1362"/><text class="s" x="1362">头双</text><circle cx="1414"/><text class="s" x="1414">尾大</text><circle cx="1515"/><text class="s" x="1515">合双</text><circle cx="1590"/><text x="1590">合</text>
<circle cx="1667"/><text class="k" x="1667">后</text><circle cx="1744"/><text x="1744">地</text><circle cx="1820"/><text class="s" x="1820">白日</text><circle cx="1873"/><text class="s" x="1873">吉美</text><circle cx="1950"/><text class="s" x="1950">家畜</text><circle cx="2050"/><text class="s" x="2050">胆小</text><circle cx="2127"/><text x="2127">女</text><circle cx="2180"/><text class="k" x="2180">独</text><circle cx="2330"/><text x="2330">画</text><circle cx="2406"/><text x="2406">夏</text><circle cx="2556"/><text class="s" x="2556">吃草</text><circle cx="2658"/><text class="s" x="2658">绿肖</text></g>

<g transform="translate(0,1912.5)"><text class="p" x="120">2024-312</text><text class="d" x="264">11-07(四)</text><circle class="G" cx="360"/><text class="n" x="360">39</text><circle class="B" cx="408"/><text class="n" x="408">26</text><circle class="R" cx="456"/><text class="n" x="456">45</text><circle class="R" cx="504"/><text class="n" x="504">7</text><circle class="R" cx="553"/><text class="n" x="553">29</text><circle class="R" cx="601"/><text class="n" x="601">23</text><text class="pl" x="635">✚</text><circle class="B" cx="668"/><text class="n" x="668">48</text>
<circle cx="841"/><text x="841">蛇</text><circle cx="1134"/><text x="1134">土</text><circle cx="1183"/><text x="1183">大</text><circle cx="1284"/><text x="1284">双</text><circle cx="1362"/><text class="s" x="1362">头双</text><circle cx="1414"/><text class="s" x="1414">尾大</text><circle cx="1515"/><text class="s" x="1515">合双</text><circle cx="1590"/><text x="1590">合</text>
<circle cx="1643"/><text class="k" x="1643">前</text><circle cx="1744"/><text x="1744">地</text><circle cx="1820"/><text class="s" x="1820">白日</text><circle cx="1873"/><text class="s" x="1873">吉美</text><circle cx="1974"/><text class="s" x="1974">野兽</text><circle cx="2050"/><text class="s" x="2050">胆小</text><circle cx="2127"/><text x="2127">女</text><circle cx="2204"/><text class="k" x="2204">合</text><circle cx="2259"/><text x="2259">琴</text><circle cx="2406"/><text x="2406">夏</text><circle cx="2507"/><text class="s" x="2507">吃肉</text><circle cx="2634"/><text class="s" x="2634">蓝肖</text></g>

<g transform="translate(0,1950.5)"><text class="p" x="120">2024-311</text><text class="d" x="264">11-06(三)</text><circle class="G" cx="360"/><text class="n" x="360">49</text><circle class="B" cx="408"/><text class="n" x="408">26</text><circle class="R" cx="456"/><text class="n" x="456">29</text><circle class="B" cx="504"/><text class="n" x="504">41</text><circle class="B" cx="553"/><text class="n" x="553">36</text><circle class="B" cx="601"/><text class="n" x="601">25</text><text class="pl" x="635">✚</text><circle class="G" cx="668"/><text class="n" x="668">21</text>
<circle cx="913"/><text x="913">猴</text><circle cx="1086"/><text x="1086">水</text><circle cx="1208"/><text x="1208">小</text><circle cx="1260"/><text x="1260">单</text><circle cx="1362"/><text class="s" x="1362">头双</text><circle cx="1438"/><text class="s" x="1438">尾小</text><circle cx="1490"/><text class="s" x="1490">合单</text><circle cx="1590"/><text x="1590">合</text>
<circle cx="1667"/><text class="k" x="1667">后</text><circle cx="1719"/><text x="1719">天</text><circle cx="1820"/><text class="s" x="1820">白日</text><circle cx="1896"/><text class="s" x="1896">凶丑</text><circle cx="1974"/><text class="s" x="1974">野兽</text><circle cx="2027"/><text class="s" x="2027">胆大</text><circle cx="2104"/><text x="2104">男</text><circle cx="2204"/><text class="k" x="2204">合</text><circle cx="2330"/><text x="2330">画</text><circle cx="2431"/><text x="2431">秋</text><circle cx="2532"/><text class="s" x="2532">吃菜</text><circle cx="2634"/><text class="s" x="2634">蓝肖</text></g>

<g transform="translate(0,1988.5)"><text class="p" x="120">2024-310</text><text class="d" x="264">11-05(二)</text><circle class="B" cx="360"/><text class="n" x="360">31</text><circle class="G" cx="408"/><text class="n" x="408">38</text><circle class="R" cx="456"/><text class="n" x="456">19</text><circle class="B" cx="504"/><text class="n" x="504">41</text><circle class="R" cx="553"/><text class="n" x="553">23</text><circle class="R" cx="601"/><text class="n" x="601">24</text><text class="pl" x="635">✚</text><circle class="B" cx="668"/><text class="n" x="668">4</text>
<circle cx="744"/><text x="744">牛</text><circle cx="1134"/><text x="1134">土</text><circle cx="1208"/><text x="1208">小</text><circle cx="1284"/><text x="1284">双</text><circle cx="1362"/><text class="s" x="1362">头双</text><circle cx="1438"/><text class="s" x="1438">尾小</text><circle cx="1515"/><text class="s" x="1515">合双</text><circle cx="1590"/><text x="1590">合</text>
<circle cx="1643"/><text class="k" x="1643">前</text><circle cx="1719"/><text x="1719">天</text><circle cx="1796"/><text class="s" x="1796">黑夜</text><circle cx="1896"/><text class="s" x="1896">凶丑</text><circle cx="1950"/><text class="s" x="1950">家畜</text><circle cx="2027"/><text class="s" x="2027">胆大</text><circle cx="2104"/><text x="2104">男</text><circle cx="2180"/><text class="k" x="2180">独</text><circle cx="2283"/><text x="2283">棋</text><circle cx="2455"/><text x="2455">冬</text><circle cx="2556"/><text class="s" x="2556">吃草</text><circle cx="2658"/><text class="s" x="2658">绿肖</text></g>
</svg>
</body></html>
